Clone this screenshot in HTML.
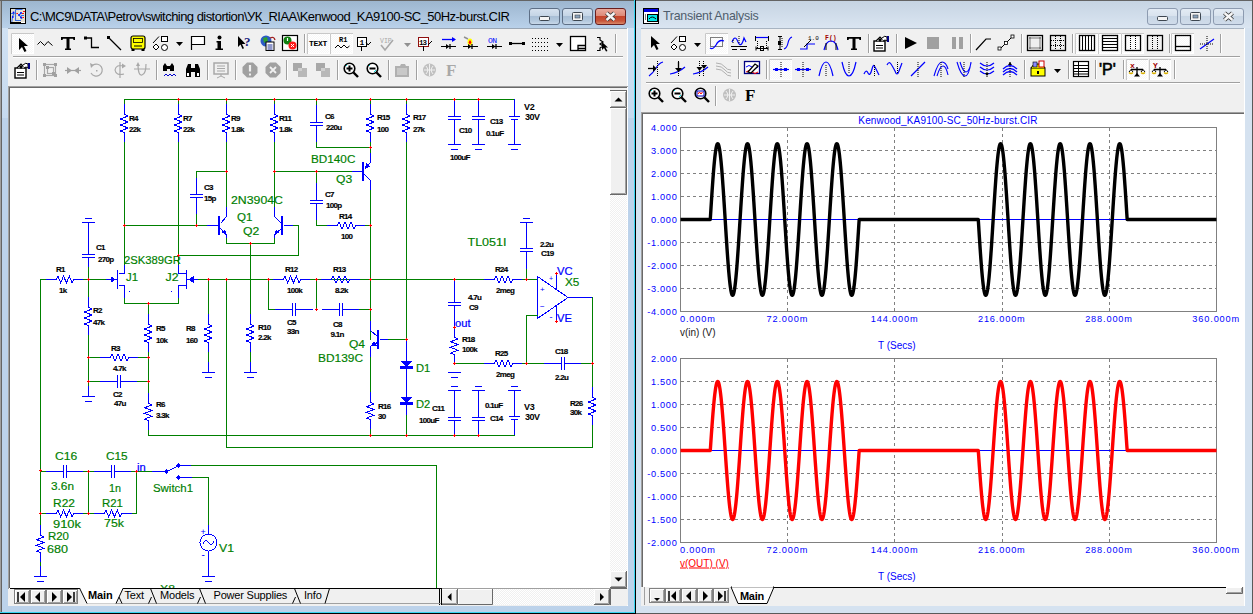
<!DOCTYPE html><html><head><meta charset="utf-8"><style>html,body{margin:0;padding:0;width:1253px;height:614px;overflow:hidden;background:#fff;font-family:'Liberation Sans', sans-serif}*{box-sizing:content-box}</style></head><body>
<div style="position:absolute;left:0;top:0;width:1253px;height:614px;overflow:hidden">
<div style="position:absolute;left:0px;top:0;width:636px;height:614px;overflow:hidden"><div style="position:absolute;left:0;top:0;width:636px;height:614px;background:#bcd2ea"></div><div style="position:absolute;left:0;top:0;width:1px;height:614px;background:#a0a0a0"></div><div style="position:absolute;left:1px;top:0;width:1px;height:614px;background:#646464"></div><div style="position:absolute;left:0;top:0;width:636px;height:1px;background:#646464"></div><div style="position:absolute;left:634px;top:0;width:1px;height:614px;background:#38d4f0"></div><div style="position:absolute;left:635px;top:0;width:1px;height:614px;background:#000"></div><div style="position:absolute;left:0;top:612px;width:635px;height:1px;background:#38d4f0"></div><div style="position:absolute;left:0;top:613px;width:636px;height:1px;background:#000"></div><div style="position:absolute;left:2px;top:1px;width:632px;height:27px;background:linear-gradient(#9db6cf,#b9d1ea)"></div><div style="position:absolute;left:30px;top:9px;font:13px 'Liberation Sans', sans-serif;color:#000;white-space:nowrap;letter-spacing:-0.54px">C:\MC9\DATA\Petrov\switching distortion\УК_RIAA\Kenwood_KA9100-SC_50Hz-burst.CIR</div></div>
<div style="position:absolute;left:529px;top:8px;width:29px;height:15px;border:1px solid #5e6f86;border-radius:3px;background:linear-gradient(#d6e2ef 0%,#c5d5e6 45%,#a9bfd6 50%,#b4c9de 80%,#c8d8e9 100%)"></div><svg style="position:absolute;left:529px;top:8px" width="31" height="17"><rect x="10.5" y="8.5" width="10" height="4" rx="1" fill="#f4f4f4" stroke="#3d4650"/></svg><div style="position:absolute;left:562px;top:8px;width:29px;height:15px;border:1px solid #5e6f86;border-radius:3px;background:linear-gradient(#d6e2ef 0%,#c5d5e6 45%,#a9bfd6 50%,#b4c9de 80%,#c8d8e9 100%)"></div><svg style="position:absolute;left:562px;top:8px" width="31" height="17"><rect x="10.5" y="4.5" width="10" height="8" rx="1" fill="#f4f4f4" stroke="#3d4650"/><rect x="13" y="7" width="5" height="3" fill="#8aa2bb" stroke="#3d4650" stroke-width=".6"/></svg><div style="position:absolute;left:595px;top:8px;width:29px;height:15px;border:1px solid #6a1f1f;border-radius:3px;background:linear-gradient(#e9a99c 0%,#dd8a78 45%,#c5442b 50%,#c8553a 80%,#d98a6a 100%)"></div><svg style="position:absolute;left:595px;top:8px" width="31" height="17"><path d="M11.5 5 L19.5 12 M19.5 5 L11.5 12" stroke="#3a3a3a" stroke-width="4.2"/><path d="M11.5 5 L19.5 12 M19.5 5 L11.5 12" stroke="#f6f6f6" stroke-width="2.4"/></svg>
<div style="position:absolute;left:2px;top:28px;width:6px;height:90px;background:linear-gradient(#d0e1f3,#c6daef)"></div><div style="position:absolute;left:628px;top:28px;width:6px;height:90px;background:linear-gradient(#d0e1f3,#c6daef)"></div>
<div style="position:absolute;left:8px;top:28px;width:620px;height:578px;background:#fff"></div><div style="position:absolute;left:8px;top:28px;width:619px;height:577px;background:#f0f0f0;border-top:1px solid #9aa6b4"></div>
<div style="position:absolute;left:636px;top:0;width:617px;height:614px;overflow:hidden"><div style="position:absolute;left:0;top:0;width:617px;height:614px;background:#d5e2f0"></div><div style="position:absolute;left:0;top:0;width:617px;height:1px;background:#646464"></div><div style="position:absolute;left:616px;top:0;width:1px;height:614px;background:#5a5a5a"></div><div style="position:absolute;left:0;top:613px;width:617px;height:1px;background:#5a5a5a"></div><div style="position:absolute;left:0px;top:1px;width:616px;height:27px;background:linear-gradient(#c6d4e3,#dae5f1)"></div><div style="position:absolute;left:27px;top:9px;font:12.4px 'Liberation Sans', sans-serif;color:#4f5d6d;white-space:nowrap;letter-spacing:-0.26px">Transient Analysis</div></div>
<div style="position:absolute;left:1147px;top:8px;width:29px;height:15px;border:1px solid #8d9bb0;border-radius:3px;background:linear-gradient(#e3ebf4 0%,#d9e3ee 45%,#c8d6e5 50%,#d0dcea 100%)"></div><svg style="position:absolute;left:1147px;top:8px" width="31" height="17"><rect x="10.5" y="8.5" width="10" height="4" rx="1" fill="#f4f4f4" stroke="#3d4650"/></svg><div style="position:absolute;left:1180px;top:8px;width:29px;height:15px;border:1px solid #8d9bb0;border-radius:3px;background:linear-gradient(#e3ebf4 0%,#d9e3ee 45%,#c8d6e5 50%,#d0dcea 100%)"></div><svg style="position:absolute;left:1180px;top:8px" width="31" height="17"><rect x="10.5" y="4.5" width="10" height="8" rx="1" fill="#f4f4f4" stroke="#3d4650"/><rect x="13" y="7" width="5" height="3" fill="#8aa2bb" stroke="#3d4650" stroke-width=".6"/></svg><div style="position:absolute;left:1213px;top:8px;width:29px;height:15px;border:1px solid #8d9bb0;border-radius:3px;background:linear-gradient(#e3ebf4 0%,#d9e3ee 45%,#c8d6e5 50%,#d0dcea 100%)"></div><svg style="position:absolute;left:1213px;top:8px" width="31" height="17"><path d="M11.5 5 L19.5 12 M19.5 5 L11.5 12" stroke="#3a3a3a" stroke-width="4.2"/><path d="M11.5 5 L19.5 12 M19.5 5 L11.5 12" stroke="#f6f6f6" stroke-width="2.4"/></svg>
<div style="position:absolute;left:641px;top:28px;width:604px;height:578px;background:#fff"></div><div style="position:absolute;left:641px;top:28px;width:603px;height:577px;background:#f0f0f0;border-top:1px solid #a8b4c2"></div>
<div style="position:absolute;left:8px;top:86px;width:619px;height:502px;background:#fff;border-left:1px solid #a0a0a0;border-top:1px solid #a0a0a0"></div>
<div style="position:absolute;left:9px;top:87px;width:602px;height:501px;border-left:1px solid #696969;border-top:1px solid #696969;box-sizing:border-box"></div>
<svg style="position:absolute;left:0;top:0" width="636" height="588" viewBox="0 0 636 588"><defs><clipPath id="cc"><rect x="10" y="88" width="600" height="500"/></clipPath></defs><g clip-path="url(#cc)" font-family="Liberation Sans, sans-serif" shape-rendering="crispEdges"><rect x="124" y="99" width="391" height="1" fill="#008000"/><rect x="124" y="99" width="1" height="6" fill="#008000"/><rect x="124" y="104" width="1" height="11" fill="#0000ff"/><rect x="124" y="132" width="1" height="11" fill="#0000ff"/><path d="M124.5 114.5 L128.0 116.0 L120.5 119.0 L128.0 122.0 L120.5 125.0 L128.0 128.0 L120.5 131.0 L124.5 132.5" stroke="#0000ff" fill="none" stroke-width="1"/><rect x="178" y="99" width="1" height="6" fill="#008000"/><rect x="178" y="104" width="1" height="11" fill="#0000ff"/><rect x="178" y="132" width="1" height="11" fill="#0000ff"/><path d="M178.5 114.5 L182.0 116.0 L174.5 119.0 L182.0 122.0 L174.5 125.0 L182.0 128.0 L174.5 131.0 L178.5 132.5" stroke="#0000ff" fill="none" stroke-width="1"/><rect x="226" y="99" width="1" height="6" fill="#008000"/><rect x="226" y="104" width="1" height="11" fill="#0000ff"/><rect x="226" y="132" width="1" height="11" fill="#0000ff"/><path d="M226.5 114.5 L230.0 116.0 L222.5 119.0 L230.0 122.0 L222.5 125.0 L230.0 128.0 L222.5 131.0 L226.5 132.5" stroke="#0000ff" fill="none" stroke-width="1"/><rect x="274" y="99" width="1" height="6" fill="#008000"/><rect x="274" y="104" width="1" height="11" fill="#0000ff"/><rect x="274" y="132" width="1" height="11" fill="#0000ff"/><path d="M274.5 114.5 L278.0 116.0 L270.5 119.0 L278.0 122.0 L270.5 125.0 L278.0 128.0 L270.5 131.0 L274.5 132.5" stroke="#0000ff" fill="none" stroke-width="1"/><rect x="370" y="99" width="1" height="6" fill="#008000"/><rect x="370" y="104" width="1" height="11" fill="#0000ff"/><rect x="370" y="132" width="1" height="11" fill="#0000ff"/><path d="M370.5 114.5 L374.0 116.0 L366.5 119.0 L374.0 122.0 L366.5 125.0 L374.0 128.0 L366.5 131.0 L370.5 132.5" stroke="#0000ff" fill="none" stroke-width="1"/><rect x="406" y="99" width="1" height="6" fill="#008000"/><rect x="406" y="104" width="1" height="11" fill="#0000ff"/><rect x="406" y="132" width="1" height="11" fill="#0000ff"/><path d="M406.5 114.5 L410.0 116.0 L402.5 119.0 L410.0 122.0 L402.5 125.0 L410.0 128.0 L402.5 131.0 L406.5 132.5" stroke="#0000ff" fill="none" stroke-width="1"/><text x="129" y="121" fill="#000" font-size="8" letter-spacing="-0.7" font-weight="bold" stroke="#000" stroke-width="0.15">R4</text><text x="129" y="132" fill="#000" font-size="8" letter-spacing="-0.7" font-weight="bold" stroke="#000" stroke-width="0.15">22k</text><text x="183" y="121" fill="#000" font-size="8" letter-spacing="-0.7" font-weight="bold" stroke="#000" stroke-width="0.15">R7</text><text x="183" y="132" fill="#000" font-size="8" letter-spacing="-0.7" font-weight="bold" stroke="#000" stroke-width="0.15">22k</text><text x="231" y="121" fill="#000" font-size="8" letter-spacing="-0.7" font-weight="bold" stroke="#000" stroke-width="0.15">R9</text><text x="231" y="132" fill="#000" font-size="8" letter-spacing="-0.7" font-weight="bold" stroke="#000" stroke-width="0.15">1.8k</text><text x="279" y="121" fill="#000" font-size="8" letter-spacing="-0.7" font-weight="bold" stroke="#000" stroke-width="0.15">R11</text><text x="279" y="132" fill="#000" font-size="8" letter-spacing="-0.7" font-weight="bold" stroke="#000" stroke-width="0.15">1.8k</text><text x="377" y="120" fill="#000" font-size="8" letter-spacing="-0.7" font-weight="bold" stroke="#000" stroke-width="0.15">R15</text><text x="377" y="131.5" fill="#000" font-size="8" letter-spacing="-0.7" font-weight="bold" stroke="#000" stroke-width="0.15">100</text><text x="413" y="120" fill="#000" font-size="8" letter-spacing="-0.7" font-weight="bold" stroke="#000" stroke-width="0.15">R17</text><text x="413" y="131.5" fill="#000" font-size="8" letter-spacing="-0.7" font-weight="bold" stroke="#000" stroke-width="0.15">27k</text><rect x="316" y="99" width="1" height="7" fill="#008000"/><rect x="316" y="105" width="1" height="18" fill="#0000ff"/><rect x="316" y="125" width="1" height="18" fill="#0000ff"/><rect x="310" y="122" width="13" height="1" fill="#0000ff"/><rect x="310" y="125" width="13" height="1" fill="#0000ff"/><rect x="316" y="142" width="1" height="6" fill="#008000"/><rect x="316" y="147" width="55" height="1" fill="#008000"/><text x="325" y="119" fill="#000" font-size="8" letter-spacing="-0.7" font-weight="bold" stroke="#000" stroke-width="0.15">C6</text><text x="326" y="130" fill="#000" font-size="8" letter-spacing="-0.7" font-weight="bold" stroke="#000" stroke-width="0.15">220u</text><rect x="370" y="142" width="1" height="6" fill="#008000"/><rect x="454" y="100" width="1" height="5" fill="#0000ff"/><rect x="454" y="104" width="1" height="13" fill="#0000ff"/><rect x="454" y="119" width="1" height="13" fill="#0000ff"/><rect x="448" y="116" width="13" height="1" fill="#0000ff"/><rect x="448" y="119" width="13" height="1" fill="#0000ff"/><rect x="454" y="131" width="1" height="4" fill="#0000ff"/><rect x="454" y="134" width="1" height="11" fill="#0000ff"/><rect x="448" y="144" width="13" height="1" fill="#0000ff"/><rect x="451" y="149" width="7" height="1" fill="#0000ff"/><rect x="478" y="100" width="1" height="5" fill="#0000ff"/><rect x="478" y="104" width="1" height="13" fill="#0000ff"/><rect x="478" y="119" width="1" height="13" fill="#0000ff"/><rect x="472" y="116" width="13" height="1" fill="#0000ff"/><rect x="472" y="119" width="13" height="1" fill="#0000ff"/><rect x="478" y="131" width="1" height="4" fill="#0000ff"/><rect x="478" y="134" width="1" height="11" fill="#0000ff"/><rect x="472" y="144" width="13" height="1" fill="#0000ff"/><rect x="475" y="149" width="7" height="1" fill="#0000ff"/><rect x="514" y="99" width="1" height="18" fill="#0000ff"/><rect x="509" y="116" width="11" height="1" fill="#0000ff"/><rect x="511" y="119" width="7" height="1" fill="#0000ff"/><rect x="514" y="119" width="1" height="26" fill="#0000ff"/><rect x="514" y="144" width="1" height="1" fill="#0000ff"/><rect x="508" y="144" width="13" height="1" fill="#0000ff"/><rect x="511" y="149" width="7" height="1" fill="#0000ff"/><text x="459" y="133" fill="#000" font-size="8" letter-spacing="-0.7" font-weight="bold" stroke="#000" stroke-width="0.15">C10</text><text x="450" y="160" fill="#000" font-size="8" letter-spacing="-0.7" font-weight="bold" stroke="#000" stroke-width="0.15">100uF</text><text x="490" y="124" fill="#000" font-size="8" letter-spacing="-0.7" font-weight="bold" stroke="#000" stroke-width="0.15">C13</text><text x="486" y="136" fill="#000" font-size="8" letter-spacing="-0.7" font-weight="bold" stroke="#000" stroke-width="0.15">0.1uF</text><text x="524" y="110" fill="#000" font-size="9" letter-spacing="-0.2" font-weight="bold">V2</text><text x="525" y="120" fill="#000" font-size="9" letter-spacing="-0.5" font-weight="bold">30V</text><rect x="226" y="142" width="1" height="65" fill="#008000"/><rect x="274" y="142" width="1" height="65" fill="#008000"/><rect x="196" y="171" width="31" height="1" fill="#008000"/><rect x="274" y="171" width="43" height="1" fill="#008000"/><rect x="196" y="177" width="1" height="18" fill="#0000ff"/><rect x="196" y="197" width="1" height="18" fill="#0000ff"/><rect x="190" y="194" width="13" height="1" fill="#0000ff"/><rect x="190" y="197" width="13" height="1" fill="#0000ff"/><rect x="196" y="171" width="1" height="7" fill="#008000"/><rect x="196" y="214" width="1" height="12" fill="#008000"/><text x="204" y="190" fill="#000" font-size="8" letter-spacing="-0.7" font-weight="bold" stroke="#000" stroke-width="0.15">C3</text><text x="204" y="201" fill="#000" font-size="8" letter-spacing="-0.7" font-weight="bold" stroke="#000" stroke-width="0.15">15p</text><rect x="124" y="142" width="1" height="123" fill="#008000"/><rect x="178" y="142" width="1" height="123" fill="#008000"/><rect x="124" y="225" width="84" height="1" fill="#008000"/><rect x="207" y="225" width="13" height="1" fill="#0000ff"/><rect x="218" y="216" width="2" height="19" fill="#0000ff"/><path d="M226.5 206.5 L226.5 216.5 L220.5 223.5" stroke="#0000ff" stroke-width="1" fill="none"/><path d="M220.5 228.5 L226.5 234.5 L226.5 237.5" stroke="#0000ff" stroke-width="1" fill="none"/><path d="M227 236 L221.5 232 L225 229.5 Z" fill="#0000ff"/><path d="M226.5 237.5 L226.5 243.5 L274.5 243.5 L274.5 237.5" stroke="#008000" stroke-width="1" fill="none"/><rect x="281" y="216" width="2" height="19" fill="#0000ff"/><path d="M274.5 206.5 L274.5 216.5 L281.5 223.5" stroke="#0000ff" stroke-width="1" fill="none"/><path d="M281.5 228.5 L274.5 234.5 L274.5 237.5" stroke="#0000ff" stroke-width="1" fill="none"/><path d="M274 236 L279.5 232 L276 229.5 Z" fill="#0000ff"/><rect x="284" y="225" width="9" height="1" fill="#0000ff"/><path d="M292.5 225.5 L298.5 225.5 L298.5 255.5 L178.5 255.5" stroke="#008000" stroke-width="1" fill="none"/><text x="231" y="204" fill="#008000" stroke="#008000" stroke-width="0.15" font-size="10" textLength="52" lengthAdjust="spacingAndGlyphs">2N3904C</text><text x="237" y="221" fill="#008000" stroke="#008000" stroke-width="0.15" font-size="10" textLength="15.4" lengthAdjust="spacingAndGlyphs">Q1</text><text x="243" y="235" fill="#008000" stroke="#008000" stroke-width="0.15" font-size="10" textLength="16.3" lengthAdjust="spacingAndGlyphs">Q2</text><rect x="362" y="162" width="2" height="19" fill="#0000ff"/><rect x="316" y="171" width="37" height="1" fill="#008000"/><rect x="352" y="171" width="11" height="1" fill="#0000ff"/><path d="M370.5 147.5 L370.5 152.5" stroke="#008000" stroke-width="1" fill="none"/><path d="M370.5 152.5 L370.5 162.5 L364.5 168.5" stroke="#0000ff" stroke-width="1" fill="none"/><path d="M364.5 169 L366.5 163 L370 166.5 Z" fill="#0000ff"/><path d="M364.5 174.5 L370.5 180.5 L370.5 190.5" stroke="#0000ff" stroke-width="1" fill="none"/><rect x="370" y="190" width="1" height="150" fill="#008000"/><text x="311" y="163" fill="#008000" stroke="#008000" stroke-width="0.15" font-size="10" textLength="44.4" lengthAdjust="spacingAndGlyphs">BD140C</text><text x="336" y="183" fill="#008000" stroke="#008000" stroke-width="0.15" font-size="10" textLength="16.2" lengthAdjust="spacingAndGlyphs">Q3</text><rect x="316" y="171" width="1" height="12" fill="#008000"/><rect x="316" y="183" width="1" height="18" fill="#0000ff"/><rect x="316" y="203" width="1" height="18" fill="#0000ff"/><rect x="310" y="200" width="13" height="1" fill="#0000ff"/><rect x="310" y="203" width="13" height="1" fill="#0000ff"/><rect x="316" y="220" width="1" height="6" fill="#008000"/><path d="M316.5 225.5 L327.5 225.5" stroke="#008000" stroke-width="1" fill="none"/><rect x="327" y="225" width="11" height="1" fill="#0000ff"/><rect x="355" y="225" width="11" height="1" fill="#0000ff"/><path d="M337.5 225.5 L339.0 222.0 L342.0 229.0 L345.0 222.0 L348.0 229.0 L351.0 222.0 L354.0 229.0 L355.5 225.5" stroke="#0000ff" fill="none" stroke-width="1"/><rect x="365" y="225" width="6" height="1" fill="#008000"/><text x="325" y="197" fill="#000" font-size="8" letter-spacing="-0.7" font-weight="bold" stroke="#000" stroke-width="0.15">C7</text><text x="326" y="208" fill="#000" font-size="8" letter-spacing="-0.7" font-weight="bold" stroke="#000" stroke-width="0.15">100p</text><text x="339" y="219" fill="#000" font-size="8" letter-spacing="-0.7" font-weight="bold" stroke="#000" stroke-width="0.15">R14</text><text x="341" y="239" fill="#000" font-size="8" letter-spacing="-0.7" font-weight="bold" stroke="#000" stroke-width="0.15">100</text><rect x="85" y="218" width="7" height="1" fill="#0000ff"/><rect x="82" y="222" width="13" height="1" fill="#0000ff"/><rect x="88" y="222" width="1" height="1" fill="#0000ff"/><rect x="88" y="222" width="1" height="23" fill="#0000ff"/><rect x="88" y="244" width="1" height="11" fill="#0000ff"/><rect x="88" y="257" width="1" height="11" fill="#0000ff"/><rect x="82" y="254" width="13" height="1" fill="#0000ff"/><rect x="82" y="257" width="13" height="1" fill="#0000ff"/><rect x="88" y="267" width="1" height="13" fill="#008000"/><text x="96" y="250" fill="#000" font-size="8" letter-spacing="-0.7" font-weight="bold" stroke="#000" stroke-width="0.15">C1</text><text x="98" y="262" fill="#000" font-size="8" letter-spacing="-0.7" font-weight="bold" stroke="#000" stroke-width="0.15">270p</text><path d="M40.5 470.5 L40.5 279.5 L46.5 279.5" stroke="#008000" stroke-width="1" fill="none"/><rect x="46" y="279" width="11" height="1" fill="#0000ff"/><rect x="73" y="279" width="11" height="1" fill="#0000ff"/><path d="M56.5 279.5 L57.916666666666664 276.0 L60.75 283.0 L63.583333333333336 276.0 L66.41666666666667 283.0 L69.25 276.0 L72.08333333333333 283.0 L73.5 279.5" stroke="#0000ff" fill="none" stroke-width="1"/><rect x="83" y="279" width="6" height="1" fill="#008000"/><text x="56" y="272" fill="#000" font-size="8" letter-spacing="-0.7" font-weight="bold" stroke="#000" stroke-width="0.15">R1</text><text x="59" y="293" fill="#000" font-size="8" letter-spacing="-0.7" font-weight="bold" stroke="#000" stroke-width="0.15">1k</text><rect x="88" y="279" width="19" height="1" fill="#008000"/><rect x="106" y="279" width="12" height="1" fill="#0000ff"/><path d="M116 279.5 L110.5 276 L110.5 283 Z" fill="#0000ff"/><rect x="117" y="270" width="1.4" height="19" fill="#0000ff"/><path d="M124.5 264.5 L124.5 273.5 L118.5 273.5" stroke="#0000ff" stroke-width="1" fill="none"/><path d="M118.5 285.5 L124.5 285.5 L124.5 297.5" stroke="#0000ff" stroke-width="1" fill="none"/><rect x="124" y="298" width="1" height="6" fill="#008000"/><path d="M124.5 303.5 L178.5 303.5" stroke="#008000" stroke-width="1" fill="none"/><rect x="129" y="291" width="1" height="1" fill="#0000ff"/><text x="124" y="264" fill="#008000" stroke="#008000" stroke-width="0.15" font-size="10" textLength="57" lengthAdjust="spacingAndGlyphs">2SK389GR</text><text x="126" y="280.7" fill="#008000" stroke="#008000" stroke-width="0.15" font-size="10" textLength="12" lengthAdjust="spacingAndGlyphs">J1</text><text x="165.5" y="280.7" fill="#008000" stroke="#008000" stroke-width="0.15" font-size="10" textLength="13" lengthAdjust="spacingAndGlyphs">J2</text><rect x="186" y="270" width="1.4" height="19" fill="#0000ff"/><path d="M178.5 264.5 L178.5 273.5 L186.5 273.5" stroke="#0000ff" stroke-width="1" fill="none"/><path d="M186.5 285.5 L178.5 285.5 L178.5 297.5" stroke="#0000ff" stroke-width="1" fill="none"/><rect x="178" y="298" width="1" height="6" fill="#008000"/><path d="M188.5 279.5 L193.5 276 L193.5 283 Z" fill="#0000ff"/><rect x="171" y="291" width="1" height="1" fill="#0000ff"/><rect x="187" y="279" width="12" height="1" fill="#0000ff"/><rect x="198" y="279" width="76" height="1" fill="#008000"/><rect x="273" y="279" width="11" height="1" fill="#0000ff"/><rect x="300" y="279" width="11" height="1" fill="#0000ff"/><path d="M283.5 279.5 L284.9166666666667 276.0 L287.75 283.0 L290.5833333333333 276.0 L293.4166666666667 283.0 L296.25 276.0 L299.0833333333333 283.0 L300.5 279.5" stroke="#0000ff" fill="none" stroke-width="1"/><rect x="310" y="279" width="175" height="1" fill="#008000"/><text x="285" y="272" fill="#000" font-size="8" letter-spacing="-0.7" font-weight="bold" stroke="#000" stroke-width="0.15">R12</text><text x="287" y="293" fill="#000" font-size="8" letter-spacing="-0.7" font-weight="bold" stroke="#000" stroke-width="0.15">100k</text><text x="333" y="272" fill="#000" font-size="8" letter-spacing="-0.7" font-weight="bold" stroke="#000" stroke-width="0.15">R13</text><text x="335" y="293" fill="#000" font-size="8" letter-spacing="-0.7" font-weight="bold" stroke="#000" stroke-width="0.15">8.2k</text><rect x="88" y="279" width="1" height="19" fill="#008000"/><rect x="88" y="297" width="1" height="11" fill="#0000ff"/><rect x="88" y="325" width="1" height="11" fill="#0000ff"/><path d="M88.5 307.5 L92.0 309.0 L84.5 312.0 L92.0 315.0 L84.5 318.0 L92.0 321.0 L84.5 324.0 L88.5 325.5" stroke="#0000ff" fill="none" stroke-width="1"/><rect x="88" y="335" width="1" height="52" fill="#008000"/><rect x="88" y="386" width="1" height="11" fill="#0000ff"/><rect x="82" y="396" width="13" height="1" fill="#0000ff"/><rect x="85" y="401" width="7" height="1" fill="#0000ff"/><text x="93" y="313" fill="#000" font-size="8" letter-spacing="-0.7" font-weight="bold" stroke="#000" stroke-width="0.15">R2</text><text x="93" y="325" fill="#000" font-size="8" letter-spacing="-0.7" font-weight="bold" stroke="#000" stroke-width="0.15">47k</text><rect x="148" y="303" width="1" height="13" fill="#008000"/><rect x="148" y="314" width="1" height="11" fill="#0000ff"/><rect x="148" y="342" width="1" height="11" fill="#0000ff"/><path d="M148.5 324.5 L152.0 326.0 L144.5 329.0 L152.0 332.0 L144.5 335.0 L152.0 338.0 L144.5 341.0 L148.5 342.5" stroke="#0000ff" fill="none" stroke-width="1"/><rect x="148" y="352" width="1" height="42" fill="#008000"/><rect x="148" y="393" width="1" height="11" fill="#0000ff"/><rect x="148" y="420" width="1" height="11" fill="#0000ff"/><path d="M148.5 403.5 L152.0 404.9166666666667 L144.5 407.75 L152.0 410.5833333333333 L144.5 413.4166666666667 L152.0 416.25 L144.5 419.0833333333333 L148.5 420.5" stroke="#0000ff" fill="none" stroke-width="1"/><rect x="148" y="430" width="1" height="6" fill="#008000"/><text x="156" y="331" fill="#000" font-size="8" letter-spacing="-0.7" font-weight="bold" stroke="#000" stroke-width="0.15">R5</text><text x="156" y="343" fill="#000" font-size="8" letter-spacing="-0.7" font-weight="bold" stroke="#000" stroke-width="0.15">10k</text><text x="156" y="407" fill="#000" font-size="8" letter-spacing="-0.7" font-weight="bold" stroke="#000" stroke-width="0.15">R6</text><text x="156" y="418" fill="#000" font-size="8" letter-spacing="-0.7" font-weight="bold" stroke="#000" stroke-width="0.15">3.3k</text><rect x="88" y="357" width="13" height="1" fill="#008000"/><rect x="100" y="357" width="11" height="1" fill="#0000ff"/><rect x="128" y="357" width="11" height="1" fill="#0000ff"/><path d="M110.5 357.5 L112.0 354.0 L115.0 361.0 L118.0 354.0 L121.0 361.0 L124.0 354.0 L127.0 361.0 L128.5 357.5" stroke="#0000ff" fill="none" stroke-width="1"/><rect x="138" y="357" width="11" height="1" fill="#008000"/><text x="111" y="351" fill="#000" font-size="8" letter-spacing="-0.7" font-weight="bold" stroke="#000" stroke-width="0.15">R3</text><text x="113" y="371" fill="#000" font-size="8" letter-spacing="-0.7" font-weight="bold" stroke="#000" stroke-width="0.15">4.7k</text><rect x="88" y="381" width="13" height="1" fill="#008000"/><rect x="100" y="381" width="18" height="1" fill="#0000ff"/><rect x="120" y="381" width="18" height="1" fill="#0000ff"/><rect x="117" y="375" width="1" height="13" fill="#0000ff"/><rect x="120" y="375" width="1" height="13" fill="#0000ff"/><rect x="137" y="381" width="12" height="1" fill="#008000"/><text x="113" y="397" fill="#000" font-size="8" letter-spacing="-0.7" font-weight="bold" stroke="#000" stroke-width="0.15">C2</text><text x="114" y="406" fill="#000" font-size="8" letter-spacing="-0.7" font-weight="bold" stroke="#000" stroke-width="0.15">47u</text><rect x="208" y="279" width="1" height="36" fill="#008000"/><rect x="208" y="314" width="1" height="11" fill="#0000ff"/><rect x="208" y="342" width="1" height="11" fill="#0000ff"/><path d="M208.5 324.5 L212.0 326.0 L204.5 329.0 L212.0 332.0 L204.5 335.0 L212.0 338.0 L204.5 341.0 L208.5 342.5" stroke="#0000ff" fill="none" stroke-width="1"/><rect x="208" y="352" width="1" height="11" fill="#008000"/><rect x="208" y="362" width="1" height="11" fill="#0000ff"/><rect x="202" y="372" width="13" height="1" fill="#0000ff"/><rect x="205" y="377" width="7" height="1" fill="#0000ff"/><text x="186" y="331" fill="#000" font-size="8" letter-spacing="-0.7" font-weight="bold" stroke="#000" stroke-width="0.15">R8</text><text x="186" y="343" fill="#000" font-size="8" letter-spacing="-0.7" font-weight="bold" stroke="#000" stroke-width="0.15">160</text><rect x="250" y="243" width="1" height="72" fill="#008000"/><rect x="250" y="314" width="1" height="11" fill="#0000ff"/><rect x="250" y="342" width="1" height="11" fill="#0000ff"/><path d="M250.5 324.5 L254.0 326.0 L246.5 329.0 L254.0 332.0 L246.5 335.0 L254.0 338.0 L246.5 341.0 L250.5 342.5" stroke="#0000ff" fill="none" stroke-width="1"/><rect x="250" y="352" width="1" height="11" fill="#008000"/><rect x="250" y="362" width="1" height="11" fill="#0000ff"/><rect x="244" y="372" width="13" height="1" fill="#0000ff"/><rect x="247" y="377" width="7" height="1" fill="#0000ff"/><text x="258" y="330" fill="#000" font-size="8" letter-spacing="-0.7" font-weight="bold" stroke="#000" stroke-width="0.15">R10</text><text x="258" y="340" fill="#000" font-size="8" letter-spacing="-0.7" font-weight="bold" stroke="#000" stroke-width="0.15">2.2k</text><rect x="226" y="279" width="1" height="169" fill="#008000"/><rect x="226" y="447" width="367" height="1" fill="#008000"/><path d="M268.5 279.5 L268.5 309.5 L275.5 309.5" stroke="#008000" stroke-width="1" fill="none"/><rect x="275" y="309" width="18" height="1" fill="#0000ff"/><rect x="295" y="309" width="18" height="1" fill="#0000ff"/><rect x="292" y="303" width="1" height="13" fill="#0000ff"/><rect x="295" y="303" width="1" height="13" fill="#0000ff"/><text x="287" y="325" fill="#000" font-size="8" letter-spacing="-0.7" font-weight="bold" stroke="#000" stroke-width="0.15">C5</text><text x="287" y="334" fill="#000" font-size="8" letter-spacing="-0.7" font-weight="bold" stroke="#000" stroke-width="0.15">33n</text><rect x="316" y="279" width="1" height="31" fill="#008000"/><rect x="321" y="279" width="11" height="1" fill="#0000ff"/><rect x="349" y="279" width="11" height="1" fill="#0000ff"/><path d="M331.5 279.5 L333.0 276.0 L336.0 283.0 L339.0 276.0 L342.0 283.0 L345.0 276.0 L348.0 283.0 L349.5 279.5" stroke="#0000ff" fill="none" stroke-width="1"/><rect x="322" y="309" width="18" height="1" fill="#0000ff"/><rect x="342" y="309" width="18" height="1" fill="#0000ff"/><rect x="339" y="303" width="1" height="13" fill="#0000ff"/><rect x="342" y="303" width="1" height="13" fill="#0000ff"/><rect x="359" y="309" width="12" height="1" fill="#008000"/><text x="333" y="327" fill="#000" font-size="8" letter-spacing="-0.7" font-weight="bold" stroke="#000" stroke-width="0.15">C8</text><text x="330.5" y="337" fill="#000" font-size="8" letter-spacing="-0.7" font-weight="bold" stroke="#000" stroke-width="0.15">9.1n</text><rect x="406" y="142" width="1" height="198" fill="#008000"/><rect x="377" y="330" width="2" height="19" fill="#0000ff"/><rect x="370" y="320" width="1" height="20" fill="#008000"/><path d="M370.5 320.5 L370.5 330.5 L377.5 336.5" stroke="#0000ff" stroke-width="1" fill="none"/><path d="M377.5 342.5 L370.5 346.5 L370.5 357.5" stroke="#0000ff" stroke-width="1" fill="none"/><path d="M370 346.5 L376.5 345.5 L374 341.5 Z" fill="#0000ff"/><rect x="380" y="339" width="9" height="1" fill="#0000ff"/><rect x="388" y="339" width="19" height="1" fill="#008000"/><rect x="370" y="357" width="1" height="36" fill="#008000"/><rect x="370" y="392" width="1" height="11" fill="#0000ff"/><rect x="370" y="419" width="1" height="11" fill="#0000ff"/><path d="M370.5 402.5 L374.0 403.9166666666667 L366.5 406.75 L374.0 409.5833333333333 L366.5 412.4166666666667 L374.0 415.25 L366.5 418.0833333333333 L370.5 419.5" stroke="#0000ff" fill="none" stroke-width="1"/><rect x="370" y="429" width="1" height="7" fill="#008000"/><text x="349" y="348" fill="#008000" stroke="#008000" stroke-width="0.15" font-size="10" textLength="16" lengthAdjust="spacingAndGlyphs">Q4</text><text x="318" y="362" fill="#008000" stroke="#008000" stroke-width="0.15" font-size="10" textLength="45" lengthAdjust="spacingAndGlyphs">BD139C</text><rect x="406" y="339" width="1" height="97" fill="#0000ff"/><path d="M400 360.5 L413 360.5 L406.5 367 Z" fill="#0000ff"/><rect x="400" y="366" width="13" height="3" fill="#0000ff"/><path d="M400 396.5 L413 396.5 L406.5 403 Z" fill="#0000ff"/><rect x="400" y="402" width="13" height="3" fill="#0000ff"/><rect x="406" y="415" width="1" height="21" fill="#008000"/><text x="416" y="372" fill="#008000" stroke="#008000" stroke-width="0.15" font-size="10" textLength="14.3" lengthAdjust="spacingAndGlyphs">D1</text><text x="416" y="408" fill="#008000" stroke="#008000" stroke-width="0.15" font-size="10" textLength="14.3" lengthAdjust="spacingAndGlyphs">D2</text><text x="378" y="409" fill="#000" font-size="8" letter-spacing="-0.7" font-weight="bold" stroke="#000" stroke-width="0.15">R16</text><text x="378" y="419" fill="#000" font-size="8" letter-spacing="-0.7" font-weight="bold" stroke="#000" stroke-width="0.15">30</text><rect x="148" y="435" width="367" height="1" fill="#008000"/><rect x="454" y="279" width="1" height="14" fill="#0000ff"/><rect x="454" y="292" width="1" height="11" fill="#0000ff"/><rect x="454" y="305" width="1" height="11" fill="#0000ff"/><rect x="448" y="302" width="13" height="1" fill="#0000ff"/><rect x="448" y="305" width="13" height="1" fill="#0000ff"/><rect x="454" y="315" width="1" height="12" fill="#0000ff"/><rect x="454" y="327" width="1" height="11" fill="#0000ff"/><rect x="454" y="354" width="1" height="11" fill="#0000ff"/><path d="M454.5 337.5 L458.0 338.9166666666667 L450.5 341.75 L458.0 344.5833333333333 L450.5 347.4166666666667 L458.0 350.25 L450.5 353.0833333333333 L454.5 354.5" stroke="#0000ff" fill="none" stroke-width="1"/><rect x="454" y="372" width="1" height="1" fill="#0000ff"/><rect x="448" y="372" width="13" height="1" fill="#0000ff"/><rect x="451" y="377" width="7" height="1" fill="#0000ff"/><rect x="451" y="386" width="7" height="1" fill="#0000ff"/><rect x="448" y="390" width="13" height="1" fill="#0000ff"/><rect x="454" y="390" width="1" height="1" fill="#0000ff"/><rect x="454" y="390" width="1" height="28" fill="#0000ff"/><rect x="454" y="417" width="1" height="1" fill="#0000ff"/><rect x="454" y="420" width="1" height="1" fill="#0000ff"/><rect x="448" y="417" width="13" height="1" fill="#0000ff"/><rect x="448" y="420" width="13" height="1" fill="#0000ff"/><rect x="454" y="420" width="1" height="16" fill="#0000ff"/><text x="468" y="300" fill="#000" font-size="8" letter-spacing="-0.7" font-weight="bold" stroke="#000" stroke-width="0.15">4.7u</text><text x="469" y="310" fill="#000" font-size="8" letter-spacing="-0.7" font-weight="bold" stroke="#000" stroke-width="0.15">C9</text><text transform="translate(455,327) scale(1.12,1)" fill="#0000ff" stroke="#0000ff" stroke-width="0.2" font-size="10">out</text><text x="462" y="341.5" fill="#000" font-size="8" letter-spacing="-0.7" font-weight="bold" stroke="#000" stroke-width="0.15">R18</text><text x="462" y="352" fill="#000" font-size="8" letter-spacing="-0.7" font-weight="bold" stroke="#000" stroke-width="0.15">100k</text><text x="432" y="411" fill="#000" font-size="8" letter-spacing="-0.7" font-weight="bold" stroke="#000" stroke-width="0.15">C11</text><text x="419" y="423" fill="#000" font-size="8" letter-spacing="-0.7" font-weight="bold" stroke="#000" stroke-width="0.15">100uF</text><rect x="454" y="363" width="31" height="1" fill="#008000"/><rect x="484" y="363" width="11" height="1" fill="#0000ff"/><rect x="512" y="363" width="11" height="1" fill="#0000ff"/><path d="M494.5 363.5 L496.0 360.0 L499.0 367.0 L502.0 360.0 L505.0 367.0 L508.0 360.0 L511.0 367.0 L512.5 363.5" stroke="#0000ff" fill="none" stroke-width="1"/><rect x="522" y="363" width="5" height="1" fill="#008000"/><text x="495" y="355.5" fill="#000" font-size="8" letter-spacing="-0.7" font-weight="bold" stroke="#000" stroke-width="0.15">R25</text><text x="496" y="377" fill="#000" font-size="8" letter-spacing="-0.7" font-weight="bold" stroke="#000" stroke-width="0.15">2meg</text><rect x="526" y="363" width="19" height="1" fill="#008000"/><rect x="544" y="363" width="18" height="1" fill="#0000ff"/><rect x="564" y="363" width="18" height="1" fill="#0000ff"/><rect x="561" y="357" width="1" height="13" fill="#0000ff"/><rect x="564" y="357" width="1" height="13" fill="#0000ff"/><rect x="581" y="363" width="12" height="1" fill="#008000"/><text x="555" y="354" fill="#000" font-size="8" letter-spacing="-0.7" font-weight="bold" stroke="#000" stroke-width="0.15">C18</text><text x="555" y="380" fill="#000" font-size="8" letter-spacing="-0.7" font-weight="bold" stroke="#000" stroke-width="0.15">2.2u</text><rect x="475" y="386" width="7" height="1" fill="#0000ff"/><rect x="472" y="390" width="13" height="1" fill="#0000ff"/><rect x="478" y="390" width="1" height="1" fill="#0000ff"/><rect x="478" y="390" width="1" height="28" fill="#0000ff"/><rect x="478" y="417" width="1" height="1" fill="#0000ff"/><rect x="478" y="420" width="1" height="1" fill="#0000ff"/><rect x="472" y="417" width="13" height="1" fill="#0000ff"/><rect x="472" y="420" width="13" height="1" fill="#0000ff"/><rect x="478" y="420" width="1" height="16" fill="#0000ff"/><rect x="511" y="386" width="7" height="1" fill="#0000ff"/><rect x="508" y="390" width="13" height="1" fill="#0000ff"/><rect x="514" y="390" width="1" height="1" fill="#0000ff"/><rect x="514" y="390" width="1" height="27" fill="#0000ff"/><rect x="509" y="416" width="11" height="1" fill="#0000ff"/><rect x="511" y="419" width="7" height="1" fill="#0000ff"/><rect x="514" y="419" width="1" height="17" fill="#0000ff"/><rect x="478" y="435" width="37" height="1" fill="#008000"/><text x="485" y="408" fill="#000" font-size="8" letter-spacing="-0.7" font-weight="bold" stroke="#000" stroke-width="0.15">0.1uF</text><text x="490" y="421" fill="#000" font-size="8" letter-spacing="-0.7" font-weight="bold" stroke="#000" stroke-width="0.15">C14</text><text x="524" y="410" fill="#000" font-size="9" letter-spacing="-0.2" font-weight="bold">V3</text><text x="525" y="420" fill="#000" font-size="9" letter-spacing="-0.5" font-weight="bold">30V</text><rect x="484" y="279" width="11" height="1" fill="#0000ff"/><rect x="512" y="279" width="11" height="1" fill="#0000ff"/><path d="M494.5 279.5 L496.0 276.0 L499.0 283.0 L502.0 276.0 L505.0 283.0 L508.0 276.0 L511.0 283.0 L512.5 279.5" stroke="#0000ff" fill="none" stroke-width="1"/><rect x="522" y="279" width="16" height="1" fill="#008000"/><rect x="523" y="218" width="7" height="1" fill="#0000ff"/><rect x="520" y="222" width="13" height="1" fill="#0000ff"/><rect x="526" y="222" width="1" height="1" fill="#0000ff"/><rect x="526" y="222" width="1" height="17" fill="#0000ff"/><rect x="526" y="231" width="1" height="18" fill="#0000ff"/><rect x="526" y="251" width="1" height="18" fill="#0000ff"/><rect x="520" y="248" width="13" height="1" fill="#0000ff"/><rect x="520" y="251" width="13" height="1" fill="#0000ff"/><rect x="526" y="269" width="1" height="11" fill="#008000"/><text x="540" y="246.5" fill="#000" font-size="8" letter-spacing="-0.7" font-weight="bold" stroke="#000" stroke-width="0.15">2.2u</text><text x="541" y="256" fill="#000" font-size="8" letter-spacing="-0.7" font-weight="bold" stroke="#000" stroke-width="0.15">C19</text><text x="495" y="272" fill="#000" font-size="8" letter-spacing="-0.7" font-weight="bold" stroke="#000" stroke-width="0.15">R24</text><text x="496" y="293" fill="#000" font-size="8" letter-spacing="-0.7" font-weight="bold" stroke="#000" stroke-width="0.15">2meg</text><text x="467.5" y="246" fill="#008000" stroke="#008000" stroke-width="0.15" font-size="10" textLength="39" lengthAdjust="spacingAndGlyphs">TL051I</text><path d="M537.5 276.5 L537.5 318.5 L568 297.5 Z" stroke="#0000ff" fill="none"/><rect x="526" y="315" width="12" height="1" fill="#008000"/><rect x="526" y="315" width="1" height="49" fill="#008000"/><rect x="556" y="273" width="1" height="17" fill="#0000ff"/><rect x="556" y="306" width="1" height="16" fill="#0000ff"/><text x="540" y="292" fill="#0000ff" font-size="8" letter-spacing="0" font-weight="normal">+</text><text x="540" y="309" fill="#0000ff" font-size="8" letter-spacing="0" font-weight="normal">−</text><text x="549" y="281" fill="#0000ff" font-size="7" letter-spacing="0" font-weight="normal">+</text><text x="549.5" y="320" fill="#0000ff" font-size="9" letter-spacing="0" font-weight="normal">-</text><text transform="translate(557,275) scale(1.12,1)" fill="#0000ff" stroke="#0000ff" stroke-width="0.2" font-size="10">VC</text><text transform="translate(557,322) scale(1.12,1)" fill="#0000ff" stroke="#0000ff" stroke-width="0.2" font-size="10">VE</text><text x="565" y="286" fill="#008000" stroke="#008000" stroke-width="0.15" font-size="10" textLength="14.4" lengthAdjust="spacingAndGlyphs">X5</text><rect x="568" y="297" width="25" height="1" fill="#0000ff"/><rect x="592" y="297" width="1" height="91" fill="#008000"/><rect x="592" y="387" width="1" height="11" fill="#0000ff"/><rect x="592" y="415" width="1" height="11" fill="#0000ff"/><path d="M592.5 397.5 L596.0 399.0 L588.5 402.0 L596.0 405.0 L588.5 408.0 L596.0 411.0 L588.5 414.0 L592.5 415.5" stroke="#0000ff" fill="none" stroke-width="1"/><rect x="592" y="425" width="1" height="23" fill="#008000"/><text x="570" y="405.5" fill="#000" font-size="8" letter-spacing="-0.7" font-weight="bold" stroke="#000" stroke-width="0.15">R26</text><text x="570" y="415" fill="#000" font-size="8" letter-spacing="-0.7" font-weight="bold" stroke="#000" stroke-width="0.15">30k</text><rect x="40" y="470" width="1" height="44" fill="#008000"/><path d="M40.5 471.5 L46.5 471.5" stroke="#008000" stroke-width="1" fill="none"/><rect x="46" y="471" width="18" height="1" fill="#0000ff"/><rect x="66" y="471" width="18" height="1" fill="#0000ff"/><rect x="63" y="465" width="1" height="13" fill="#0000ff"/><rect x="66" y="465" width="1" height="13" fill="#0000ff"/><rect x="83" y="471" width="6" height="1" fill="#008000"/><rect x="88" y="471" width="7" height="1" fill="#008000"/><rect x="94" y="471" width="18" height="1" fill="#0000ff"/><rect x="114" y="471" width="18" height="1" fill="#0000ff"/><rect x="111" y="465" width="1" height="13" fill="#0000ff"/><rect x="114" y="465" width="1" height="13" fill="#0000ff"/><rect x="131" y="471" width="6" height="1" fill="#008000"/><rect x="88" y="471" width="1" height="43" fill="#008000"/><path d="M40.5 513.5 L46.5 513.5" stroke="#008000" stroke-width="1" fill="none"/><rect x="46" y="513" width="11" height="1" fill="#0000ff"/><rect x="73" y="513" width="11" height="1" fill="#0000ff"/><path d="M56.5 513.5 L57.916666666666664 510.0 L60.75 517.0 L63.583333333333336 510.0 L66.41666666666667 517.0 L69.25 510.0 L72.08333333333333 517.0 L73.5 513.5" stroke="#0000ff" fill="none" stroke-width="1"/><rect x="83" y="513" width="12" height="1" fill="#008000"/><rect x="93" y="513" width="2" height="1" fill="#008000"/><rect x="94" y="513" width="11" height="1" fill="#0000ff"/><rect x="121" y="513" width="11" height="1" fill="#0000ff"/><path d="M104.5 513.5 L105.91666666666667 510.0 L108.75 517.0 L111.58333333333333 510.0 L114.41666666666667 517.0 L117.25 510.0 L120.08333333333333 517.0 L121.5 513.5" stroke="#0000ff" fill="none" stroke-width="1"/><path d="M131.5 513.5 L136.5 513.5 L136.5 471.5" stroke="#008000" stroke-width="1" fill="none"/><rect x="40" y="513" width="1" height="13" fill="#008000"/><rect x="40" y="525" width="1" height="11" fill="#0000ff"/><rect x="40" y="552" width="1" height="11" fill="#0000ff"/><path d="M40.5 535.5 L44.0 536.9166666666666 L36.5 539.75 L44.0 542.5833333333334 L36.5 545.4166666666666 L44.0 548.25 L36.5 551.0833333333334 L40.5 552.5" stroke="#0000ff" fill="none" stroke-width="1"/><rect x="40" y="562" width="1" height="5" fill="#008000"/><rect x="40" y="566" width="1" height="11" fill="#0000ff"/><rect x="34" y="576" width="13" height="1" fill="#0000ff"/><rect x="37" y="581" width="7" height="1" fill="#0000ff"/><text x="55" y="460" fill="#008000" stroke="#008000" stroke-width="0.15" font-size="10" textLength="22.2" lengthAdjust="spacingAndGlyphs">C16</text><text x="106" y="460" fill="#008000" stroke="#008000" stroke-width="0.15" font-size="10" textLength="21.7" lengthAdjust="spacingAndGlyphs">C15</text><text x="51" y="490" fill="#008000" stroke="#008000" stroke-width="0.15" font-size="10" textLength="23" lengthAdjust="spacingAndGlyphs">3.6n</text><text x="109" y="492" fill="#008000" stroke="#008000" stroke-width="0.15" font-size="10" textLength="12" lengthAdjust="spacingAndGlyphs">1n</text><text x="53" y="507" fill="#008000" stroke="#008000" stroke-width="0.15" font-size="10" textLength="22" lengthAdjust="spacingAndGlyphs">R22</text><text x="102" y="507" fill="#008000" stroke="#008000" stroke-width="0.15" font-size="10" textLength="21" lengthAdjust="spacingAndGlyphs">R21</text><text x="53" y="528" fill="#008000" stroke="#008000" stroke-width="0.15" font-size="10" textLength="28" lengthAdjust="spacingAndGlyphs">910k</text><text x="104" y="527" fill="#008000" stroke="#008000" stroke-width="0.15" font-size="10" textLength="20" lengthAdjust="spacingAndGlyphs">75k</text><text x="48" y="540" fill="#008000" stroke="#008000" stroke-width="0.15" font-size="10" textLength="21" lengthAdjust="spacingAndGlyphs">R20</text><text x="47" y="553" fill="#008000" stroke="#008000" stroke-width="0.15" font-size="10" textLength="21" lengthAdjust="spacingAndGlyphs">680</text><text transform="translate(137,471) scale(1.12,1)" fill="#0000ff" stroke="#0000ff" stroke-width="0.2" font-size="10">in</text><rect x="136" y="471" width="17" height="1" fill="#008000"/><rect x="152" y="471" width="15" height="1" fill="#0000ff"/><path d="M166.5 471.5 L179.5 465.5" stroke="#0000ff" stroke-width="1" fill="none"/><rect x="179" y="465" width="13" height="1" fill="#0000ff"/><rect x="191" y="465" width="246" height="1" fill="#008000"/><rect x="436" y="465" width="1" height="124" fill="#008000"/><rect x="179" y="477" width="13" height="1" fill="#0000ff"/><path d="M191.5 477.5 L208.5 477.5 L208.5 525.5" stroke="#008000" stroke-width="1" fill="none"/><path d="M166.5 469 L168.5 471.5 L166.5 474 L164.5 471.5Z" fill="#0000ff"/><path d="M178.5 463 L180.5 465.5 L178.5 468 L176.5 465.5Z" fill="#0000ff"/><path d="M178.5 475 L180.5 477.5 L178.5 480 L176.5 477.5Z" fill="#0000ff"/><text x="153" y="492" fill="#008000" stroke="#008000" stroke-width="0.15" font-size="10" textLength="40" lengthAdjust="spacingAndGlyphs">Switch1</text><rect x="208" y="525" width="1" height="10" fill="#0000ff"/><circle cx="208.5" cy="542.5" r="8.5" stroke="#0000ff" fill="none"/><path d="M203 543.5 Q205.5 538 208.5 542.5 T214 541.5" stroke="#0000ff" fill="none"/><rect x="208" y="551" width="1" height="16" fill="#0000ff"/><rect x="208" y="566" width="1" height="11" fill="#0000ff"/><rect x="202" y="576" width="13" height="1" fill="#0000ff"/><rect x="205" y="581" width="7" height="1" fill="#0000ff"/><text x="200.5" y="535" fill="#0000ff" font-size="9" letter-spacing="0" font-weight="normal">+</text><text x="201.5" y="558" fill="#0000ff" font-size="10" letter-spacing="0" font-weight="normal">-</text><text x="219" y="552" fill="#008000" stroke="#008000" stroke-width="0.15" font-size="10" textLength="15" lengthAdjust="spacingAndGlyphs">V1</text><text x="160" y="593" fill="#008000" stroke="#008000" stroke-width="0.15" font-size="10" textLength="15" lengthAdjust="spacingAndGlyphs">X8</text><rect x="177" y="99" width="3" height="1" fill="#ff0000"/><rect x="178" y="98" width="1" height="3" fill="#ff0000"/><rect x="225" y="99" width="3" height="1" fill="#ff0000"/><rect x="226" y="98" width="1" height="3" fill="#ff0000"/><rect x="273" y="99" width="3" height="1" fill="#ff0000"/><rect x="274" y="98" width="1" height="3" fill="#ff0000"/><rect x="315" y="99" width="3" height="1" fill="#ff0000"/><rect x="316" y="98" width="1" height="3" fill="#ff0000"/><rect x="369" y="99" width="3" height="1" fill="#ff0000"/><rect x="370" y="98" width="1" height="3" fill="#ff0000"/><rect x="405" y="99" width="3" height="1" fill="#ff0000"/><rect x="406" y="98" width="1" height="3" fill="#ff0000"/><rect x="453" y="99" width="3" height="1" fill="#ff0000"/><rect x="454" y="98" width="1" height="3" fill="#ff0000"/><rect x="477" y="99" width="3" height="1" fill="#ff0000"/><rect x="478" y="98" width="1" height="3" fill="#ff0000"/><rect x="369" y="147" width="3" height="1" fill="#ff0000"/><rect x="370" y="146" width="1" height="3" fill="#ff0000"/><rect x="225" y="171" width="3" height="1" fill="#ff0000"/><rect x="226" y="170" width="1" height="3" fill="#ff0000"/><rect x="273" y="171" width="3" height="1" fill="#ff0000"/><rect x="274" y="170" width="1" height="3" fill="#ff0000"/><rect x="123" y="225" width="3" height="1" fill="#ff0000"/><rect x="124" y="224" width="1" height="3" fill="#ff0000"/><rect x="195" y="225" width="3" height="1" fill="#ff0000"/><rect x="196" y="224" width="1" height="3" fill="#ff0000"/><rect x="249" y="243" width="3" height="1" fill="#ff0000"/><rect x="250" y="242" width="1" height="3" fill="#ff0000"/><rect x="177" y="255" width="3" height="1" fill="#ff0000"/><rect x="178" y="254" width="1" height="3" fill="#ff0000"/><rect x="315" y="171" width="3" height="1" fill="#ff0000"/><rect x="316" y="170" width="1" height="3" fill="#ff0000"/><rect x="369" y="225" width="3" height="1" fill="#ff0000"/><rect x="370" y="224" width="1" height="3" fill="#ff0000"/><rect x="87" y="279" width="3" height="1" fill="#ff0000"/><rect x="88" y="278" width="1" height="3" fill="#ff0000"/><rect x="147" y="303" width="3" height="1" fill="#ff0000"/><rect x="148" y="302" width="1" height="3" fill="#ff0000"/><rect x="207" y="279" width="3" height="1" fill="#ff0000"/><rect x="208" y="278" width="1" height="3" fill="#ff0000"/><rect x="225" y="279" width="3" height="1" fill="#ff0000"/><rect x="226" y="278" width="1" height="3" fill="#ff0000"/><rect x="267" y="279" width="3" height="1" fill="#ff0000"/><rect x="268" y="278" width="1" height="3" fill="#ff0000"/><rect x="315" y="279" width="3" height="1" fill="#ff0000"/><rect x="316" y="278" width="1" height="3" fill="#ff0000"/><rect x="369" y="279" width="3" height="1" fill="#ff0000"/><rect x="370" y="278" width="1" height="3" fill="#ff0000"/><rect x="453" y="279" width="3" height="1" fill="#ff0000"/><rect x="454" y="278" width="1" height="3" fill="#ff0000"/><rect x="87" y="357" width="3" height="1" fill="#ff0000"/><rect x="88" y="356" width="1" height="3" fill="#ff0000"/><rect x="87" y="381" width="3" height="1" fill="#ff0000"/><rect x="88" y="380" width="1" height="3" fill="#ff0000"/><rect x="147" y="357" width="3" height="1" fill="#ff0000"/><rect x="148" y="356" width="1" height="3" fill="#ff0000"/><rect x="147" y="381" width="3" height="1" fill="#ff0000"/><rect x="148" y="380" width="1" height="3" fill="#ff0000"/><rect x="315" y="309" width="3" height="1" fill="#ff0000"/><rect x="316" y="308" width="1" height="3" fill="#ff0000"/><rect x="369" y="309" width="3" height="1" fill="#ff0000"/><rect x="370" y="308" width="1" height="3" fill="#ff0000"/><rect x="405" y="339" width="3" height="1" fill="#ff0000"/><rect x="406" y="338" width="1" height="3" fill="#ff0000"/><rect x="369" y="435" width="3" height="1" fill="#ff0000"/><rect x="370" y="434" width="1" height="3" fill="#ff0000"/><rect x="405" y="435" width="3" height="1" fill="#ff0000"/><rect x="406" y="434" width="1" height="3" fill="#ff0000"/><rect x="453" y="435" width="3" height="1" fill="#ff0000"/><rect x="454" y="434" width="1" height="3" fill="#ff0000"/><rect x="477" y="435" width="3" height="1" fill="#ff0000"/><rect x="478" y="434" width="1" height="3" fill="#ff0000"/><rect x="453" y="327" width="3" height="1" fill="#ff0000"/><rect x="454" y="326" width="1" height="3" fill="#ff0000"/><rect x="453" y="363" width="3" height="1" fill="#ff0000"/><rect x="454" y="362" width="1" height="3" fill="#ff0000"/><rect x="525" y="363" width="3" height="1" fill="#ff0000"/><rect x="526" y="362" width="1" height="3" fill="#ff0000"/><rect x="591" y="363" width="3" height="1" fill="#ff0000"/><rect x="592" y="362" width="1" height="3" fill="#ff0000"/><rect x="525" y="279" width="3" height="1" fill="#ff0000"/><rect x="526" y="278" width="1" height="3" fill="#ff0000"/><rect x="555" y="273" width="3" height="1" fill="#ff0000"/><rect x="556" y="272" width="1" height="3" fill="#ff0000"/><rect x="555" y="321" width="3" height="1" fill="#ff0000"/><rect x="556" y="320" width="1" height="3" fill="#ff0000"/><rect x="39" y="470" width="3" height="1" fill="#ff0000"/><rect x="40" y="469" width="1" height="3" fill="#ff0000"/><rect x="39" y="513" width="3" height="1" fill="#ff0000"/><rect x="40" y="512" width="1" height="3" fill="#ff0000"/><rect x="87" y="471" width="3" height="1" fill="#ff0000"/><rect x="88" y="470" width="1" height="3" fill="#ff0000"/><rect x="135" y="471" width="3" height="1" fill="#ff0000"/><rect x="136" y="470" width="1" height="3" fill="#ff0000"/><rect x="87" y="513" width="3" height="1" fill="#ff0000"/><rect x="88" y="512" width="1" height="3" fill="#ff0000"/></g></svg>
<div style="position:absolute;left:641px;top:112px;width:603px;height:475px;background:#fff;border-left:1px solid #a0a0a0;border-top:1px solid #a0a0a0;box-sizing:border-box"></div>
<div style="position:absolute;left:642px;top:113px;width:602px;height:474px;border-left:1px solid #696969;border-top:1px solid #696969;box-sizing:border-box"></div>
<svg style="position:absolute;left:0;top:0" width="1253" height="614"><g font-family="Liberation Sans, sans-serif"><path d="M787.5 128 L787.5 311" stroke="#808080" stroke-dasharray="3 3" /><path d="M894.5 128 L894.5 311" stroke="#808080" stroke-dasharray="3 3" /><path d="M1002.5 128 L1002.5 311" stroke="#808080" stroke-dasharray="3 3" /><path d="M1109.5 128 L1109.5 311" stroke="#808080" stroke-dasharray="3 3" /><path d="M681 150.5 L1216 150.5" stroke="#808080" stroke-dasharray="3 3" /><path d="M681 173.5 L1216 173.5" stroke="#808080" stroke-dasharray="3 3" /><path d="M681 196.5 L1216 196.5" stroke="#808080" stroke-dasharray="3 3" /><path d="M681 242.5 L1216 242.5" stroke="#808080" stroke-dasharray="3 3" /><path d="M681 265.5 L1216 265.5" stroke="#808080" stroke-dasharray="3 3" /><path d="M681 288.5 L1216 288.5" stroke="#808080" stroke-dasharray="3 3" /><path d="M680 219.5 L1216 219.5" stroke="#0000ff"/><rect x="680.5" y="127.5" width="536" height="184" fill="none" stroke="#808080"/><path d="M680.50 219.50 L680.87 219.50 L681.24 219.50 L681.62 219.50 L681.99 219.50 L682.36 219.50 L682.73 219.50 L683.11 219.50 L683.48 219.50 L683.85 219.50 L684.22 219.50 L684.59 219.50 L684.97 219.50 L685.34 219.50 L685.71 219.50 L686.08 219.50 L686.46 219.50 L686.83 219.50 L687.20 219.50 L687.57 219.50 L687.94 219.50 L688.32 219.50 L688.69 219.50 L689.06 219.50 L689.43 219.50 L689.81 219.50 L690.18 219.50 L690.55 219.50 L690.92 219.50 L691.29 219.50 L691.67 219.50 L692.04 219.50 L692.41 219.50 L692.78 219.50 L693.16 219.50 L693.53 219.50 L693.90 219.50 L694.27 219.50 L694.64 219.50 L695.02 219.50 L695.39 219.50 L695.76 219.50 L696.13 219.50 L696.51 219.50 L696.88 219.50 L697.25 219.50 L697.62 219.50 L697.99 219.50 L698.37 219.50 L698.74 219.50 L699.11 219.50 L699.48 219.50 L699.86 219.50 L700.23 219.50 L700.60 219.50 L700.97 219.50 L701.34 219.50 L701.72 219.50 L702.09 219.50 L702.46 219.50 L702.83 219.50 L703.21 219.50 L703.58 219.50 L703.95 219.50 L704.32 219.50 L704.69 219.50 L705.07 219.50 L705.44 219.50 L705.81 219.50 L706.18 219.50 L706.56 219.50 L706.93 219.50 L707.30 219.50 L707.67 219.50 L708.04 219.50 L708.42 219.50 L708.79 219.50 L709.16 219.50 L709.53 219.50 L709.91 219.50 L710.28 219.50 L710.65 213.54 L711.02 207.63 L711.39 201.78 L711.77 196.05 L712.14 190.45 L712.51 185.04 L712.88 179.84 L713.26 174.89 L713.63 170.21 L714.00 165.83 L714.37 161.79 L714.74 158.10 L715.12 154.78 L715.49 151.87 L715.86 149.38 L716.23 147.31 L716.61 145.70 L716.98 144.53 L717.35 143.83 L717.72 143.60 L718.09 143.83 L718.47 144.53 L718.84 145.70 L719.21 147.31 L719.58 149.38 L719.96 151.87 L720.33 154.78 L720.70 158.10 L721.07 161.79 L721.44 165.83 L721.82 170.21 L722.19 174.89 L722.56 179.84 L722.93 185.04 L723.31 190.45 L723.68 196.05 L724.05 201.78 L724.42 207.63 L724.79 213.54 L725.17 219.50 L725.54 225.46 L725.91 231.37 L726.28 237.22 L726.66 242.95 L727.03 248.55 L727.40 253.96 L727.77 259.16 L728.14 264.11 L728.52 268.79 L728.89 273.17 L729.26 277.21 L729.63 280.90 L730.01 284.22 L730.38 287.13 L730.75 289.62 L731.12 291.69 L731.49 293.30 L731.87 294.47 L732.24 295.17 L732.61 295.40 L732.98 295.17 L733.36 294.47 L733.73 293.30 L734.10 291.69 L734.47 289.62 L734.84 287.13 L735.22 284.22 L735.59 280.90 L735.96 277.21 L736.33 273.17 L736.71 268.79 L737.08 264.11 L737.45 259.16 L737.82 253.96 L738.19 248.55 L738.57 242.95 L738.94 237.22 L739.31 231.37 L739.68 225.46 L740.06 219.50 L740.43 213.54 L740.80 207.63 L741.17 201.78 L741.54 196.05 L741.92 190.45 L742.29 185.04 L742.66 179.84 L743.03 174.89 L743.41 170.21 L743.78 165.83 L744.15 161.79 L744.52 158.10 L744.89 154.78 L745.27 151.87 L745.64 149.38 L746.01 147.31 L746.38 145.70 L746.76 144.53 L747.13 143.83 L747.50 143.60 L747.87 143.83 L748.24 144.53 L748.62 145.70 L748.99 147.31 L749.36 149.38 L749.73 151.87 L750.11 154.78 L750.48 158.10 L750.85 161.79 L751.22 165.83 L751.59 170.21 L751.97 174.89 L752.34 179.84 L752.71 185.04 L753.08 190.45 L753.46 196.05 L753.83 201.78 L754.20 207.63 L754.57 213.54 L754.94 219.50 L755.32 225.46 L755.69 231.37 L756.06 237.22 L756.43 242.95 L756.81 248.55 L757.18 253.96 L757.55 259.16 L757.92 264.11 L758.29 268.79 L758.67 273.17 L759.04 277.21 L759.41 280.90 L759.78 284.22 L760.16 287.13 L760.53 289.62 L760.90 291.69 L761.27 293.30 L761.64 294.47 L762.02 295.17 L762.39 295.40 L762.76 295.17 L763.13 294.47 L763.51 293.30 L763.88 291.69 L764.25 289.62 L764.62 287.13 L764.99 284.22 L765.37 280.90 L765.74 277.21 L766.11 273.17 L766.48 268.79 L766.86 264.11 L767.23 259.16 L767.60 253.96 L767.97 248.55 L768.34 242.95 L768.72 237.22 L769.09 231.37 L769.46 225.46 L769.83 219.50 L770.21 213.54 L770.58 207.63 L770.95 201.78 L771.32 196.05 L771.69 190.45 L772.07 185.04 L772.44 179.84 L772.81 174.89 L773.18 170.21 L773.56 165.83 L773.93 161.79 L774.30 158.10 L774.67 154.78 L775.04 151.87 L775.42 149.38 L775.79 147.31 L776.16 145.70 L776.53 144.53 L776.91 143.83 L777.28 143.60 L777.65 143.83 L778.02 144.53 L778.39 145.70 L778.77 147.31 L779.14 149.38 L779.51 151.87 L779.88 154.78 L780.26 158.10 L780.63 161.79 L781.00 165.83 L781.37 170.21 L781.74 174.89 L782.12 179.84 L782.49 185.04 L782.86 190.45 L783.23 196.05 L783.61 201.78 L783.98 207.63 L784.35 213.54 L784.72 219.50 L785.09 225.46 L785.47 231.37 L785.84 237.22 L786.21 242.95 L786.58 248.55 L786.96 253.96 L787.33 259.16 L787.70 264.11 L788.07 268.79 L788.44 273.17 L788.82 277.21 L789.19 280.90 L789.56 284.22 L789.93 287.13 L790.31 289.62 L790.68 291.69 L791.05 293.30 L791.42 294.47 L791.79 295.17 L792.17 295.40 L792.54 295.17 L792.91 294.47 L793.28 293.30 L793.66 291.69 L794.03 289.62 L794.40 287.13 L794.77 284.22 L795.14 280.90 L795.52 277.21 L795.89 273.17 L796.26 268.79 L796.63 264.11 L797.01 259.16 L797.38 253.96 L797.75 248.55 L798.12 242.95 L798.49 237.22 L798.87 231.37 L799.24 225.46 L799.61 219.50 L799.98 213.54 L800.36 207.63 L800.73 201.78 L801.10 196.05 L801.47 190.45 L801.84 185.04 L802.22 179.84 L802.59 174.89 L802.96 170.21 L803.33 165.83 L803.71 161.79 L804.08 158.10 L804.45 154.78 L804.82 151.87 L805.19 149.38 L805.57 147.31 L805.94 145.70 L806.31 144.53 L806.68 143.83 L807.06 143.60 L807.43 143.83 L807.80 144.53 L808.17 145.70 L808.54 147.31 L808.92 149.38 L809.29 151.87 L809.66 154.78 L810.03 158.10 L810.41 161.79 L810.78 165.83 L811.15 170.21 L811.52 174.89 L811.89 179.84 L812.27 185.04 L812.64 190.45 L813.01 196.05 L813.38 201.78 L813.76 207.63 L814.13 213.54 L814.50 219.50 L814.87 225.46 L815.24 231.37 L815.62 237.22 L815.99 242.95 L816.36 248.55 L816.73 253.96 L817.11 259.16 L817.48 264.11 L817.85 268.79 L818.22 273.17 L818.59 277.21 L818.97 280.90 L819.34 284.22 L819.71 287.13 L820.08 289.62 L820.46 291.69 L820.83 293.30 L821.20 294.47 L821.57 295.17 L821.94 295.40 L822.32 295.17 L822.69 294.47 L823.06 293.30 L823.43 291.69 L823.81 289.62 L824.18 287.13 L824.55 284.22 L824.92 280.90 L825.29 277.21 L825.67 273.17 L826.04 268.79 L826.41 264.11 L826.78 259.16 L827.16 253.96 L827.53 248.55 L827.90 242.95 L828.27 237.22 L828.64 231.37 L829.02 225.46 L829.39 219.50 L829.76 213.54 L830.13 207.63 L830.51 201.78 L830.88 196.05 L831.25 190.45 L831.62 185.04 L831.99 179.84 L832.37 174.89 L832.74 170.21 L833.11 165.83 L833.48 161.79 L833.86 158.10 L834.23 154.78 L834.60 151.87 L834.97 149.38 L835.34 147.31 L835.72 145.70 L836.09 144.53 L836.46 143.83 L836.83 143.60 L837.21 143.83 L837.58 144.53 L837.95 145.70 L838.32 147.31 L838.69 149.38 L839.07 151.87 L839.44 154.78 L839.81 158.10 L840.18 161.79 L840.56 165.83 L840.93 170.21 L841.30 174.89 L841.67 179.84 L842.04 185.04 L842.42 190.45 L842.79 196.05 L843.16 201.78 L843.53 207.63 L843.91 213.54 L844.28 219.50 L844.65 225.46 L845.02 231.37 L845.39 237.22 L845.77 242.95 L846.14 248.55 L846.51 253.96 L846.88 259.16 L847.26 264.11 L847.63 268.79 L848.00 273.17 L848.37 277.21 L848.74 280.90 L849.12 284.22 L849.49 287.13 L849.86 289.62 L850.23 291.69 L850.61 293.30 L850.98 294.47 L851.35 295.17 L851.72 295.40 L852.09 295.17 L852.47 294.47 L852.84 293.30 L853.21 291.69 L853.58 289.62 L853.96 287.13 L854.33 284.22 L854.70 280.90 L855.07 277.21 L855.44 273.17 L855.82 268.79 L856.19 264.11 L856.56 259.16 L856.93 253.96 L857.31 248.55 L857.68 242.95 L858.05 237.22 L858.42 231.37 L858.79 225.46 L859.17 219.50 L859.54 219.50 L859.91 219.50 L860.28 219.50 L860.66 219.50 L861.03 219.50 L861.40 219.50 L861.77 219.50 L862.14 219.50 L862.52 219.50 L862.89 219.50 L863.26 219.50 L863.63 219.50 L864.01 219.50 L864.38 219.50 L864.75 219.50 L865.12 219.50 L865.49 219.50 L865.87 219.50 L866.24 219.50 L866.61 219.50 L866.98 219.50 L867.36 219.50 L867.73 219.50 L868.10 219.50 L868.47 219.50 L868.84 219.50 L869.22 219.50 L869.59 219.50 L869.96 219.50 L870.33 219.50 L870.71 219.50 L871.08 219.50 L871.45 219.50 L871.82 219.50 L872.19 219.50 L872.57 219.50 L872.94 219.50 L873.31 219.50 L873.68 219.50 L874.06 219.50 L874.43 219.50 L874.80 219.50 L875.17 219.50 L875.54 219.50 L875.92 219.50 L876.29 219.50 L876.66 219.50 L877.03 219.50 L877.41 219.50 L877.78 219.50 L878.15 219.50 L878.52 219.50 L878.89 219.50 L879.27 219.50 L879.64 219.50 L880.01 219.50 L880.38 219.50 L880.76 219.50 L881.13 219.50 L881.50 219.50 L881.87 219.50 L882.24 219.50 L882.62 219.50 L882.99 219.50 L883.36 219.50 L883.73 219.50 L884.11 219.50 L884.48 219.50 L884.85 219.50 L885.22 219.50 L885.59 219.50 L885.97 219.50 L886.34 219.50 L886.71 219.50 L887.08 219.50 L887.46 219.50 L887.83 219.50 L888.20 219.50 L888.57 219.50 L888.94 219.50 L889.32 219.50 L889.69 219.50 L890.06 219.50 L890.43 219.50 L890.81 219.50 L891.18 219.50 L891.55 219.50 L891.92 219.50 L892.29 219.50 L892.67 219.50 L893.04 219.50 L893.41 219.50 L893.78 219.50 L894.16 219.50 L894.53 219.50 L894.90 219.50 L895.27 219.50 L895.64 219.50 L896.02 219.50 L896.39 219.50 L896.76 219.50 L897.13 219.50 L897.51 219.50 L897.88 219.50 L898.25 219.50 L898.62 219.50 L898.99 219.50 L899.37 219.50 L899.74 219.50 L900.11 219.50 L900.48 219.50 L900.86 219.50 L901.23 219.50 L901.60 219.50 L901.97 219.50 L902.34 219.50 L902.72 219.50 L903.09 219.50 L903.46 219.50 L903.83 219.50 L904.21 219.50 L904.58 219.50 L904.95 219.50 L905.32 219.50 L905.69 219.50 L906.07 219.50 L906.44 219.50 L906.81 219.50 L907.18 219.50 L907.56 219.50 L907.93 219.50 L908.30 219.50 L908.67 219.50 L909.04 219.50 L909.42 219.50 L909.79 219.50 L910.16 219.50 L910.53 219.50 L910.91 219.50 L911.28 219.50 L911.65 219.50 L912.02 219.50 L912.39 219.50 L912.77 219.50 L913.14 219.50 L913.51 219.50 L913.88 219.50 L914.26 219.50 L914.63 219.50 L915.00 219.50 L915.37 219.50 L915.74 219.50 L916.12 219.50 L916.49 219.50 L916.86 219.50 L917.23 219.50 L917.61 219.50 L917.98 219.50 L918.35 219.50 L918.72 219.50 L919.09 219.50 L919.47 219.50 L919.84 219.50 L920.21 219.50 L920.58 219.50 L920.96 219.50 L921.33 219.50 L921.70 219.50 L922.07 219.50 L922.44 219.50 L922.82 219.50 L923.19 219.50 L923.56 219.50 L923.93 219.50 L924.31 219.50 L924.68 219.50 L925.05 219.50 L925.42 219.50 L925.79 219.50 L926.17 219.50 L926.54 219.50 L926.91 219.50 L927.28 219.50 L927.66 219.50 L928.03 219.50 L928.40 219.50 L928.77 219.50 L929.14 219.50 L929.52 219.50 L929.89 219.50 L930.26 219.50 L930.63 219.50 L931.01 219.50 L931.38 219.50 L931.75 219.50 L932.12 219.50 L932.49 219.50 L932.87 219.50 L933.24 219.50 L933.61 219.50 L933.98 219.50 L934.36 219.50 L934.73 219.50 L935.10 219.50 L935.47 219.50 L935.84 219.50 L936.22 219.50 L936.59 219.50 L936.96 219.50 L937.33 219.50 L937.71 219.50 L938.08 219.50 L938.45 219.50 L938.82 219.50 L939.19 219.50 L939.57 219.50 L939.94 219.50 L940.31 219.50 L940.68 219.50 L941.06 219.50 L941.43 219.50 L941.80 219.50 L942.17 219.50 L942.54 219.50 L942.92 219.50 L943.29 219.50 L943.66 219.50 L944.03 219.50 L944.41 219.50 L944.78 219.50 L945.15 219.50 L945.52 219.50 L945.89 219.50 L946.27 219.50 L946.64 219.50 L947.01 219.50 L947.38 219.50 L947.76 219.50 L948.13 219.50 L948.50 219.50 L948.87 219.50 L949.24 219.50 L949.62 219.50 L949.99 219.50 L950.36 219.50 L950.73 219.50 L951.11 219.50 L951.48 219.50 L951.85 219.50 L952.22 219.50 L952.59 219.50 L952.97 219.50 L953.34 219.50 L953.71 219.50 L954.08 219.50 L954.46 219.50 L954.83 219.50 L955.20 219.50 L955.57 219.50 L955.94 219.50 L956.32 219.50 L956.69 219.50 L957.06 219.50 L957.43 219.50 L957.81 219.50 L958.18 219.50 L958.55 219.50 L958.92 219.50 L959.29 219.50 L959.67 219.50 L960.04 219.50 L960.41 219.50 L960.78 219.50 L961.16 219.50 L961.53 219.50 L961.90 219.50 L962.27 219.50 L962.64 219.50 L963.02 219.50 L963.39 219.50 L963.76 219.50 L964.13 219.50 L964.51 219.50 L964.88 219.50 L965.25 219.50 L965.62 219.50 L965.99 219.50 L966.37 219.50 L966.74 219.50 L967.11 219.50 L967.48 219.50 L967.86 219.50 L968.23 219.50 L968.60 219.50 L968.97 219.50 L969.34 219.50 L969.72 219.50 L970.09 219.50 L970.46 219.50 L970.83 219.50 L971.21 219.50 L971.58 219.50 L971.95 219.50 L972.32 219.50 L972.69 219.50 L973.07 219.50 L973.44 219.50 L973.81 219.50 L974.18 219.50 L974.56 219.50 L974.93 219.50 L975.30 219.50 L975.67 219.50 L976.04 219.50 L976.42 219.50 L976.79 219.50 L977.16 219.50 L977.53 219.50 L977.91 219.50 L978.28 219.50 L978.65 225.46 L979.02 231.37 L979.39 237.22 L979.77 242.95 L980.14 248.55 L980.51 253.96 L980.88 259.16 L981.26 264.11 L981.63 268.79 L982.00 273.17 L982.37 277.21 L982.74 280.90 L983.12 284.22 L983.49 287.13 L983.86 289.62 L984.23 291.69 L984.61 293.30 L984.98 294.47 L985.35 295.17 L985.72 295.40 L986.09 295.17 L986.47 294.47 L986.84 293.30 L987.21 291.69 L987.58 289.62 L987.96 287.13 L988.33 284.22 L988.70 280.90 L989.07 277.21 L989.44 273.17 L989.82 268.79 L990.19 264.11 L990.56 259.16 L990.93 253.96 L991.31 248.55 L991.68 242.95 L992.05 237.22 L992.42 231.37 L992.79 225.46 L993.17 219.50 L993.54 213.54 L993.91 207.63 L994.28 201.78 L994.66 196.05 L995.03 190.45 L995.40 185.04 L995.77 179.84 L996.14 174.89 L996.52 170.21 L996.89 165.83 L997.26 161.79 L997.63 158.10 L998.01 154.78 L998.38 151.87 L998.75 149.38 L999.12 147.31 L999.49 145.70 L999.87 144.53 L1000.24 143.83 L1000.61 143.60 L1000.98 143.83 L1001.36 144.53 L1001.73 145.70 L1002.10 147.31 L1002.47 149.38 L1002.84 151.87 L1003.22 154.78 L1003.59 158.10 L1003.96 161.79 L1004.33 165.83 L1004.71 170.21 L1005.08 174.89 L1005.45 179.84 L1005.82 185.04 L1006.19 190.45 L1006.57 196.05 L1006.94 201.78 L1007.31 207.63 L1007.68 213.54 L1008.06 219.50 L1008.43 225.46 L1008.80 231.37 L1009.17 237.22 L1009.54 242.95 L1009.92 248.55 L1010.29 253.96 L1010.66 259.16 L1011.03 264.11 L1011.41 268.79 L1011.78 273.17 L1012.15 277.21 L1012.52 280.90 L1012.89 284.22 L1013.27 287.13 L1013.64 289.62 L1014.01 291.69 L1014.38 293.30 L1014.76 294.47 L1015.13 295.17 L1015.50 295.40 L1015.87 295.17 L1016.24 294.47 L1016.62 293.30 L1016.99 291.69 L1017.36 289.62 L1017.73 287.13 L1018.11 284.22 L1018.48 280.90 L1018.85 277.21 L1019.22 273.17 L1019.59 268.79 L1019.97 264.11 L1020.34 259.16 L1020.71 253.96 L1021.08 248.55 L1021.46 242.95 L1021.83 237.22 L1022.20 231.37 L1022.57 225.46 L1022.94 219.50 L1023.32 213.54 L1023.69 207.63 L1024.06 201.78 L1024.43 196.05 L1024.81 190.45 L1025.18 185.04 L1025.55 179.84 L1025.92 174.89 L1026.29 170.21 L1026.67 165.83 L1027.04 161.79 L1027.41 158.10 L1027.78 154.78 L1028.16 151.87 L1028.53 149.38 L1028.90 147.31 L1029.27 145.70 L1029.64 144.53 L1030.02 143.83 L1030.39 143.60 L1030.76 143.83 L1031.13 144.53 L1031.51 145.70 L1031.88 147.31 L1032.25 149.38 L1032.62 151.87 L1032.99 154.78 L1033.37 158.10 L1033.74 161.79 L1034.11 165.83 L1034.48 170.21 L1034.86 174.89 L1035.23 179.84 L1035.60 185.04 L1035.97 190.45 L1036.34 196.05 L1036.72 201.78 L1037.09 207.63 L1037.46 213.54 L1037.83 219.50 L1038.21 225.46 L1038.58 231.37 L1038.95 237.22 L1039.32 242.95 L1039.69 248.55 L1040.07 253.96 L1040.44 259.16 L1040.81 264.11 L1041.18 268.79 L1041.56 273.17 L1041.93 277.21 L1042.30 280.90 L1042.67 284.22 L1043.04 287.13 L1043.42 289.62 L1043.79 291.69 L1044.16 293.30 L1044.53 294.47 L1044.91 295.17 L1045.28 295.40 L1045.65 295.17 L1046.02 294.47 L1046.39 293.30 L1046.77 291.69 L1047.14 289.62 L1047.51 287.13 L1047.88 284.22 L1048.26 280.90 L1048.63 277.21 L1049.00 273.17 L1049.37 268.79 L1049.74 264.11 L1050.12 259.16 L1050.49 253.96 L1050.86 248.55 L1051.23 242.95 L1051.61 237.22 L1051.98 231.37 L1052.35 225.46 L1052.72 219.50 L1053.09 213.54 L1053.47 207.63 L1053.84 201.78 L1054.21 196.05 L1054.58 190.45 L1054.96 185.04 L1055.33 179.84 L1055.70 174.89 L1056.07 170.21 L1056.44 165.83 L1056.82 161.79 L1057.19 158.10 L1057.56 154.78 L1057.93 151.87 L1058.31 149.38 L1058.68 147.31 L1059.05 145.70 L1059.42 144.53 L1059.79 143.83 L1060.17 143.60 L1060.54 143.83 L1060.91 144.53 L1061.28 145.70 L1061.66 147.31 L1062.03 149.38 L1062.40 151.87 L1062.77 154.78 L1063.14 158.10 L1063.52 161.79 L1063.89 165.83 L1064.26 170.21 L1064.63 174.89 L1065.01 179.84 L1065.38 185.04 L1065.75 190.45 L1066.12 196.05 L1066.49 201.78 L1066.87 207.63 L1067.24 213.54 L1067.61 219.50 L1067.98 225.46 L1068.36 231.37 L1068.73 237.22 L1069.10 242.95 L1069.47 248.55 L1069.84 253.96 L1070.22 259.16 L1070.59 264.11 L1070.96 268.79 L1071.33 273.17 L1071.71 277.21 L1072.08 280.90 L1072.45 284.22 L1072.82 287.13 L1073.19 289.62 L1073.57 291.69 L1073.94 293.30 L1074.31 294.47 L1074.68 295.17 L1075.06 295.40 L1075.43 295.17 L1075.80 294.47 L1076.17 293.30 L1076.54 291.69 L1076.92 289.62 L1077.29 287.13 L1077.66 284.22 L1078.03 280.90 L1078.41 277.21 L1078.78 273.17 L1079.15 268.79 L1079.52 264.11 L1079.89 259.16 L1080.27 253.96 L1080.64 248.55 L1081.01 242.95 L1081.38 237.22 L1081.76 231.37 L1082.13 225.46 L1082.50 219.50 L1082.87 213.54 L1083.24 207.63 L1083.62 201.78 L1083.99 196.05 L1084.36 190.45 L1084.73 185.04 L1085.11 179.84 L1085.48 174.89 L1085.85 170.21 L1086.22 165.83 L1086.59 161.79 L1086.97 158.10 L1087.34 154.78 L1087.71 151.87 L1088.08 149.38 L1088.46 147.31 L1088.83 145.70 L1089.20 144.53 L1089.57 143.83 L1089.94 143.60 L1090.32 143.83 L1090.69 144.53 L1091.06 145.70 L1091.43 147.31 L1091.81 149.38 L1092.18 151.87 L1092.55 154.78 L1092.92 158.10 L1093.29 161.79 L1093.67 165.83 L1094.04 170.21 L1094.41 174.89 L1094.78 179.84 L1095.16 185.04 L1095.53 190.45 L1095.90 196.05 L1096.27 201.78 L1096.64 207.63 L1097.02 213.54 L1097.39 219.50 L1097.76 225.46 L1098.13 231.37 L1098.51 237.22 L1098.88 242.95 L1099.25 248.55 L1099.62 253.96 L1099.99 259.16 L1100.37 264.11 L1100.74 268.79 L1101.11 273.17 L1101.48 277.21 L1101.86 280.90 L1102.23 284.22 L1102.60 287.13 L1102.97 289.62 L1103.34 291.69 L1103.72 293.30 L1104.09 294.47 L1104.46 295.17 L1104.83 295.40 L1105.21 295.17 L1105.58 294.47 L1105.95 293.30 L1106.32 291.69 L1106.69 289.62 L1107.07 287.13 L1107.44 284.22 L1107.81 280.90 L1108.18 277.21 L1108.56 273.17 L1108.93 268.79 L1109.30 264.11 L1109.67 259.16 L1110.04 253.96 L1110.42 248.55 L1110.79 242.95 L1111.16 237.22 L1111.53 231.37 L1111.91 225.46 L1112.28 219.50 L1112.65 213.54 L1113.02 207.63 L1113.39 201.78 L1113.77 196.05 L1114.14 190.45 L1114.51 185.04 L1114.88 179.84 L1115.26 174.89 L1115.63 170.21 L1116.00 165.83 L1116.37 161.79 L1116.74 158.10 L1117.12 154.78 L1117.49 151.87 L1117.86 149.38 L1118.23 147.31 L1118.61 145.70 L1118.98 144.53 L1119.35 143.83 L1119.72 143.60 L1120.09 143.83 L1120.47 144.53 L1120.84 145.70 L1121.21 147.31 L1121.58 149.38 L1121.96 151.87 L1122.33 154.78 L1122.70 158.10 L1123.07 161.79 L1123.44 165.83 L1123.82 170.21 L1124.19 174.89 L1124.56 179.84 L1124.93 185.04 L1125.31 190.45 L1125.68 196.05 L1126.05 201.78 L1126.42 207.63 L1126.79 213.54 L1127.17 219.50 L1127.54 219.50 L1127.91 219.50 L1128.28 219.50 L1128.66 219.50 L1129.03 219.50 L1129.40 219.50 L1129.77 219.50 L1130.14 219.50 L1130.52 219.50 L1130.89 219.50 L1131.26 219.50 L1131.63 219.50 L1132.01 219.50 L1132.38 219.50 L1132.75 219.50 L1133.12 219.50 L1133.49 219.50 L1133.87 219.50 L1134.24 219.50 L1134.61 219.50 L1134.98 219.50 L1135.36 219.50 L1135.73 219.50 L1136.10 219.50 L1136.47 219.50 L1136.84 219.50 L1137.22 219.50 L1137.59 219.50 L1137.96 219.50 L1138.33 219.50 L1138.71 219.50 L1139.08 219.50 L1139.45 219.50 L1139.82 219.50 L1140.19 219.50 L1140.57 219.50 L1140.94 219.50 L1141.31 219.50 L1141.68 219.50 L1142.06 219.50 L1142.43 219.50 L1142.80 219.50 L1143.17 219.50 L1143.54 219.50 L1143.92 219.50 L1144.29 219.50 L1144.66 219.50 L1145.03 219.50 L1145.41 219.50 L1145.78 219.50 L1146.15 219.50 L1146.52 219.50 L1146.89 219.50 L1147.27 219.50 L1147.64 219.50 L1148.01 219.50 L1148.38 219.50 L1148.76 219.50 L1149.13 219.50 L1149.50 219.50 L1149.87 219.50 L1150.24 219.50 L1150.62 219.50 L1150.99 219.50 L1151.36 219.50 L1151.73 219.50 L1152.11 219.50 L1152.48 219.50 L1152.85 219.50 L1153.22 219.50 L1153.59 219.50 L1153.97 219.50 L1154.34 219.50 L1154.71 219.50 L1155.08 219.50 L1155.46 219.50 L1155.83 219.50 L1156.20 219.50 L1156.57 219.50 L1156.94 219.50 L1157.32 219.50 L1157.69 219.50 L1158.06 219.50 L1158.43 219.50 L1158.81 219.50 L1159.18 219.50 L1159.55 219.50 L1159.92 219.50 L1160.29 219.50 L1160.67 219.50 L1161.04 219.50 L1161.41 219.50 L1161.78 219.50 L1162.16 219.50 L1162.53 219.50 L1162.90 219.50 L1163.27 219.50 L1163.64 219.50 L1164.02 219.50 L1164.39 219.50 L1164.76 219.50 L1165.13 219.50 L1165.51 219.50 L1165.88 219.50 L1166.25 219.50 L1166.62 219.50 L1166.99 219.50 L1167.37 219.50 L1167.74 219.50 L1168.11 219.50 L1168.48 219.50 L1168.86 219.50 L1169.23 219.50 L1169.60 219.50 L1169.97 219.50 L1170.34 219.50 L1170.72 219.50 L1171.09 219.50 L1171.46 219.50 L1171.83 219.50 L1172.21 219.50 L1172.58 219.50 L1172.95 219.50 L1173.32 219.50 L1173.69 219.50 L1174.07 219.50 L1174.44 219.50 L1174.81 219.50 L1175.18 219.50 L1175.56 219.50 L1175.93 219.50 L1176.30 219.50 L1176.67 219.50 L1177.04 219.50 L1177.42 219.50 L1177.79 219.50 L1178.16 219.50 L1178.53 219.50 L1178.91 219.50 L1179.28 219.50 L1179.65 219.50 L1180.02 219.50 L1180.39 219.50 L1180.77 219.50 L1181.14 219.50 L1181.51 219.50 L1181.88 219.50 L1182.26 219.50 L1182.63 219.50 L1183.00 219.50 L1183.37 219.50 L1183.74 219.50 L1184.12 219.50 L1184.49 219.50 L1184.86 219.50 L1185.23 219.50 L1185.61 219.50 L1185.98 219.50 L1186.35 219.50 L1186.72 219.50 L1187.09 219.50 L1187.47 219.50 L1187.84 219.50 L1188.21 219.50 L1188.58 219.50 L1188.96 219.50 L1189.33 219.50 L1189.70 219.50 L1190.07 219.50 L1190.44 219.50 L1190.82 219.50 L1191.19 219.50 L1191.56 219.50 L1191.93 219.50 L1192.31 219.50 L1192.68 219.50 L1193.05 219.50 L1193.42 219.50 L1193.79 219.50 L1194.17 219.50 L1194.54 219.50 L1194.91 219.50 L1195.28 219.50 L1195.66 219.50 L1196.03 219.50 L1196.40 219.50 L1196.77 219.50 L1197.14 219.50 L1197.52 219.50 L1197.89 219.50 L1198.26 219.50 L1198.63 219.50 L1199.01 219.50 L1199.38 219.50 L1199.75 219.50 L1200.12 219.50 L1200.49 219.50 L1200.87 219.50 L1201.24 219.50 L1201.61 219.50 L1201.98 219.50 L1202.36 219.50 L1202.73 219.50 L1203.10 219.50 L1203.47 219.50 L1203.84 219.50 L1204.22 219.50 L1204.59 219.50 L1204.96 219.50 L1205.33 219.50 L1205.71 219.50 L1206.08 219.50 L1206.45 219.50 L1206.82 219.50 L1207.19 219.50 L1207.57 219.50 L1207.94 219.50 L1208.31 219.50 L1208.68 219.50 L1209.06 219.50 L1209.43 219.50 L1209.80 219.50 L1210.17 219.50 L1210.54 219.50 L1210.92 219.50 L1211.29 219.50 L1211.66 219.50 L1212.03 219.50 L1212.41 219.50 L1212.78 219.50 L1213.15 219.50 L1213.52 219.50 L1213.89 219.50 L1214.27 219.50 L1214.64 219.50 L1215.01 219.50 L1215.38 219.50 L1215.76 219.50 L1216.13 219.50 L1216.50 219.50" stroke="#000000" stroke-width="3.4" fill="none" stroke-linejoin="round"/><text x="677.5" y="130.5" text-anchor="end" fill="#0000ff" font-size="9.2" letter-spacing="0.7">4.000</text><text x="677.5" y="153.5" text-anchor="end" fill="#0000ff" font-size="9.2" letter-spacing="0.7">3.000</text><text x="677.5" y="176.5" text-anchor="end" fill="#0000ff" font-size="9.2" letter-spacing="0.7">2.000</text><text x="677.5" y="199.5" text-anchor="end" fill="#0000ff" font-size="9.2" letter-spacing="0.7">1.000</text><text x="677.5" y="222.5" text-anchor="end" fill="#0000ff" font-size="9.2" letter-spacing="0.7">0.000</text><text x="677.5" y="245.5" text-anchor="end" fill="#0000ff" font-size="9.2" letter-spacing="0.7">-1.000</text><text x="677.5" y="268.5" text-anchor="end" fill="#0000ff" font-size="9.2" letter-spacing="0.7">-2.000</text><text x="677.5" y="291.5" text-anchor="end" fill="#0000ff" font-size="9.2" letter-spacing="0.7">-3.000</text><text x="677.5" y="314.5" text-anchor="end" fill="#0000ff" font-size="9.2" letter-spacing="0.7">-4.000</text><text x="680" y="322" fill="#0000ff" font-size="9.2" letter-spacing="0.85">0.000m</text><text x="787.4000000000001" y="322" text-anchor="middle" fill="#0000ff" font-size="9.2" letter-spacing="0.85">72.000m</text><text x="894.6" y="322" text-anchor="middle" fill="#0000ff" font-size="9.2" letter-spacing="0.85">144.000m</text><text x="1001.8000000000001" y="322" text-anchor="middle" fill="#0000ff" font-size="9.2" letter-spacing="0.85">216.000m</text><text x="1109.0" y="322" text-anchor="middle" fill="#0000ff" font-size="9.2" letter-spacing="0.85">288.000m</text><text x="1216.2" y="322" text-anchor="middle" fill="#0000ff" font-size="9.2" letter-spacing="0.85">360.000m</text><text x="680" y="335.5" fill="#202020" font-size="10" >v(in) (V)</text><text x="878" y="348.5" fill="#0000ff" font-size="10">T (Secs)</text><text x="948" y="124" text-anchor="middle" fill="#0000ff" font-size="10" letter-spacing="0.15">Kenwood_KA9100-SC_50Hz-burst.CIR</text><path d="M787.5 359 L787.5 542" stroke="#808080" stroke-dasharray="3 3" /><path d="M894.5 359 L894.5 542" stroke="#808080" stroke-dasharray="3 3" /><path d="M1002.5 359 L1002.5 542" stroke="#808080" stroke-dasharray="3 3" /><path d="M1109.5 359 L1109.5 542" stroke="#808080" stroke-dasharray="3 3" /><path d="M681 381.5 L1216 381.5" stroke="#808080" stroke-dasharray="3 3" /><path d="M681 404.5 L1216 404.5" stroke="#808080" stroke-dasharray="3 3" /><path d="M681 427.5 L1216 427.5" stroke="#808080" stroke-dasharray="3 3" /><path d="M681 473.5 L1216 473.5" stroke="#808080" stroke-dasharray="3 3" /><path d="M681 496.5 L1216 496.5" stroke="#808080" stroke-dasharray="3 3" /><path d="M681 519.5 L1216 519.5" stroke="#808080" stroke-dasharray="3 3" /><path d="M680 450.5 L1216 450.5" stroke="#0000ff"/><rect x="680.5" y="358.5" width="536" height="184" fill="none" stroke="#808080"/><path d="M680.50 450.50 L680.87 450.50 L681.24 450.50 L681.62 450.50 L681.99 450.50 L682.36 450.50 L682.73 450.50 L683.11 450.50 L683.48 450.50 L683.85 450.50 L684.22 450.50 L684.59 450.50 L684.97 450.50 L685.34 450.50 L685.71 450.50 L686.08 450.50 L686.46 450.50 L686.83 450.50 L687.20 450.50 L687.57 450.50 L687.94 450.50 L688.32 450.50 L688.69 450.50 L689.06 450.50 L689.43 450.50 L689.81 450.50 L690.18 450.50 L690.55 450.50 L690.92 450.50 L691.29 450.50 L691.67 450.50 L692.04 450.50 L692.41 450.50 L692.78 450.50 L693.16 450.50 L693.53 450.50 L693.90 450.50 L694.27 450.50 L694.64 450.50 L695.02 450.50 L695.39 450.50 L695.76 450.50 L696.13 450.50 L696.51 450.50 L696.88 450.50 L697.25 450.50 L697.62 450.50 L697.99 450.50 L698.37 450.50 L698.74 450.50 L699.11 450.50 L699.48 450.50 L699.86 450.50 L700.23 450.50 L700.60 450.50 L700.97 450.50 L701.34 450.50 L701.72 450.50 L702.09 450.50 L702.46 450.50 L702.83 450.50 L703.21 450.50 L703.58 450.50 L703.95 450.50 L704.32 450.50 L704.69 450.50 L705.07 450.50 L705.44 450.50 L705.81 450.50 L706.18 450.50 L706.56 450.50 L706.93 450.50 L707.30 450.50 L707.67 450.50 L708.04 450.50 L708.42 450.50 L708.79 450.50 L709.16 450.50 L709.53 450.50 L709.91 450.50 L710.28 450.50 L710.65 445.09 L711.02 439.71 L711.39 434.39 L711.77 429.18 L712.14 424.09 L712.51 419.17 L712.88 414.45 L713.26 409.94 L713.63 405.69 L714.00 401.71 L714.37 398.03 L714.74 394.68 L715.12 391.67 L715.49 389.02 L715.86 386.75 L716.23 384.88 L716.61 383.41 L716.98 382.35 L717.35 381.71 L717.72 381.50 L718.09 381.71 L718.47 382.35 L718.84 383.41 L719.21 384.88 L719.58 386.75 L719.96 389.02 L720.33 391.67 L720.70 394.68 L721.07 398.03 L721.44 401.71 L721.82 405.69 L722.19 409.94 L722.56 414.45 L722.93 419.17 L723.31 424.09 L723.68 429.18 L724.05 434.39 L724.42 439.71 L724.79 445.09 L725.17 450.50 L725.54 455.91 L725.91 461.29 L726.28 466.61 L726.66 471.82 L727.03 476.91 L727.40 481.83 L727.77 486.55 L728.14 491.06 L728.52 495.31 L728.89 499.29 L729.26 502.97 L729.63 506.32 L730.01 509.33 L730.38 511.98 L730.75 514.25 L731.12 516.12 L731.49 517.59 L731.87 518.65 L732.24 519.29 L732.61 519.50 L732.98 519.29 L733.36 518.65 L733.73 517.59 L734.10 516.12 L734.47 514.25 L734.84 511.98 L735.22 509.33 L735.59 506.32 L735.96 502.97 L736.33 499.29 L736.71 495.31 L737.08 491.06 L737.45 486.55 L737.82 481.83 L738.19 476.91 L738.57 471.82 L738.94 466.61 L739.31 461.29 L739.68 455.91 L740.06 450.50 L740.43 445.09 L740.80 439.71 L741.17 434.39 L741.54 429.18 L741.92 424.09 L742.29 419.17 L742.66 414.45 L743.03 409.94 L743.41 405.69 L743.78 401.71 L744.15 398.03 L744.52 394.68 L744.89 391.67 L745.27 389.02 L745.64 386.75 L746.01 384.88 L746.38 383.41 L746.76 382.35 L747.13 381.71 L747.50 381.50 L747.87 381.71 L748.24 382.35 L748.62 383.41 L748.99 384.88 L749.36 386.75 L749.73 389.02 L750.11 391.67 L750.48 394.68 L750.85 398.03 L751.22 401.71 L751.59 405.69 L751.97 409.94 L752.34 414.45 L752.71 419.17 L753.08 424.09 L753.46 429.18 L753.83 434.39 L754.20 439.71 L754.57 445.09 L754.94 450.50 L755.32 455.91 L755.69 461.29 L756.06 466.61 L756.43 471.82 L756.81 476.91 L757.18 481.83 L757.55 486.55 L757.92 491.06 L758.29 495.31 L758.67 499.29 L759.04 502.97 L759.41 506.32 L759.78 509.33 L760.16 511.98 L760.53 514.25 L760.90 516.12 L761.27 517.59 L761.64 518.65 L762.02 519.29 L762.39 519.50 L762.76 519.29 L763.13 518.65 L763.51 517.59 L763.88 516.12 L764.25 514.25 L764.62 511.98 L764.99 509.33 L765.37 506.32 L765.74 502.97 L766.11 499.29 L766.48 495.31 L766.86 491.06 L767.23 486.55 L767.60 481.83 L767.97 476.91 L768.34 471.82 L768.72 466.61 L769.09 461.29 L769.46 455.91 L769.83 450.50 L770.21 445.09 L770.58 439.71 L770.95 434.39 L771.32 429.18 L771.69 424.09 L772.07 419.17 L772.44 414.45 L772.81 409.94 L773.18 405.69 L773.56 401.71 L773.93 398.03 L774.30 394.68 L774.67 391.67 L775.04 389.02 L775.42 386.75 L775.79 384.88 L776.16 383.41 L776.53 382.35 L776.91 381.71 L777.28 381.50 L777.65 381.71 L778.02 382.35 L778.39 383.41 L778.77 384.88 L779.14 386.75 L779.51 389.02 L779.88 391.67 L780.26 394.68 L780.63 398.03 L781.00 401.71 L781.37 405.69 L781.74 409.94 L782.12 414.45 L782.49 419.17 L782.86 424.09 L783.23 429.18 L783.61 434.39 L783.98 439.71 L784.35 445.09 L784.72 450.50 L785.09 455.91 L785.47 461.29 L785.84 466.61 L786.21 471.82 L786.58 476.91 L786.96 481.83 L787.33 486.55 L787.70 491.06 L788.07 495.31 L788.44 499.29 L788.82 502.97 L789.19 506.32 L789.56 509.33 L789.93 511.98 L790.31 514.25 L790.68 516.12 L791.05 517.59 L791.42 518.65 L791.79 519.29 L792.17 519.50 L792.54 519.29 L792.91 518.65 L793.28 517.59 L793.66 516.12 L794.03 514.25 L794.40 511.98 L794.77 509.33 L795.14 506.32 L795.52 502.97 L795.89 499.29 L796.26 495.31 L796.63 491.06 L797.01 486.55 L797.38 481.83 L797.75 476.91 L798.12 471.82 L798.49 466.61 L798.87 461.29 L799.24 455.91 L799.61 450.50 L799.98 445.09 L800.36 439.71 L800.73 434.39 L801.10 429.18 L801.47 424.09 L801.84 419.17 L802.22 414.45 L802.59 409.94 L802.96 405.69 L803.33 401.71 L803.71 398.03 L804.08 394.68 L804.45 391.67 L804.82 389.02 L805.19 386.75 L805.57 384.88 L805.94 383.41 L806.31 382.35 L806.68 381.71 L807.06 381.50 L807.43 381.71 L807.80 382.35 L808.17 383.41 L808.54 384.88 L808.92 386.75 L809.29 389.02 L809.66 391.67 L810.03 394.68 L810.41 398.03 L810.78 401.71 L811.15 405.69 L811.52 409.94 L811.89 414.45 L812.27 419.17 L812.64 424.09 L813.01 429.18 L813.38 434.39 L813.76 439.71 L814.13 445.09 L814.50 450.50 L814.87 455.91 L815.24 461.29 L815.62 466.61 L815.99 471.82 L816.36 476.91 L816.73 481.83 L817.11 486.55 L817.48 491.06 L817.85 495.31 L818.22 499.29 L818.59 502.97 L818.97 506.32 L819.34 509.33 L819.71 511.98 L820.08 514.25 L820.46 516.12 L820.83 517.59 L821.20 518.65 L821.57 519.29 L821.94 519.50 L822.32 519.29 L822.69 518.65 L823.06 517.59 L823.43 516.12 L823.81 514.25 L824.18 511.98 L824.55 509.33 L824.92 506.32 L825.29 502.97 L825.67 499.29 L826.04 495.31 L826.41 491.06 L826.78 486.55 L827.16 481.83 L827.53 476.91 L827.90 471.82 L828.27 466.61 L828.64 461.29 L829.02 455.91 L829.39 450.50 L829.76 445.09 L830.13 439.71 L830.51 434.39 L830.88 429.18 L831.25 424.09 L831.62 419.17 L831.99 414.45 L832.37 409.94 L832.74 405.69 L833.11 401.71 L833.48 398.03 L833.86 394.68 L834.23 391.67 L834.60 389.02 L834.97 386.75 L835.34 384.88 L835.72 383.41 L836.09 382.35 L836.46 381.71 L836.83 381.50 L837.21 381.71 L837.58 382.35 L837.95 383.41 L838.32 384.88 L838.69 386.75 L839.07 389.02 L839.44 391.67 L839.81 394.68 L840.18 398.03 L840.56 401.71 L840.93 405.69 L841.30 409.94 L841.67 414.45 L842.04 419.17 L842.42 424.09 L842.79 429.18 L843.16 434.39 L843.53 439.71 L843.91 445.09 L844.28 450.50 L844.65 455.91 L845.02 461.29 L845.39 466.61 L845.77 471.82 L846.14 476.91 L846.51 481.83 L846.88 486.55 L847.26 491.06 L847.63 495.31 L848.00 499.29 L848.37 502.97 L848.74 506.32 L849.12 509.33 L849.49 511.98 L849.86 514.25 L850.23 516.12 L850.61 517.59 L850.98 518.65 L851.35 519.29 L851.72 519.50 L852.09 519.29 L852.47 518.65 L852.84 517.59 L853.21 516.12 L853.58 514.25 L853.96 511.98 L854.33 509.33 L854.70 506.32 L855.07 502.97 L855.44 499.29 L855.82 495.31 L856.19 491.06 L856.56 486.55 L856.93 481.83 L857.31 476.91 L857.68 471.82 L858.05 466.61 L858.42 461.29 L858.79 455.91 L859.17 450.50 L859.54 450.50 L859.91 450.50 L860.28 450.50 L860.66 450.50 L861.03 450.50 L861.40 450.50 L861.77 450.50 L862.14 450.50 L862.52 450.50 L862.89 450.50 L863.26 450.50 L863.63 450.50 L864.01 450.50 L864.38 450.50 L864.75 450.50 L865.12 450.50 L865.49 450.50 L865.87 450.50 L866.24 450.50 L866.61 450.50 L866.98 450.50 L867.36 450.50 L867.73 450.50 L868.10 450.50 L868.47 450.50 L868.84 450.50 L869.22 450.50 L869.59 450.50 L869.96 450.50 L870.33 450.50 L870.71 450.50 L871.08 450.50 L871.45 450.50 L871.82 450.50 L872.19 450.50 L872.57 450.50 L872.94 450.50 L873.31 450.50 L873.68 450.50 L874.06 450.50 L874.43 450.50 L874.80 450.50 L875.17 450.50 L875.54 450.50 L875.92 450.50 L876.29 450.50 L876.66 450.50 L877.03 450.50 L877.41 450.50 L877.78 450.50 L878.15 450.50 L878.52 450.50 L878.89 450.50 L879.27 450.50 L879.64 450.50 L880.01 450.50 L880.38 450.50 L880.76 450.50 L881.13 450.50 L881.50 450.50 L881.87 450.50 L882.24 450.50 L882.62 450.50 L882.99 450.50 L883.36 450.50 L883.73 450.50 L884.11 450.50 L884.48 450.50 L884.85 450.50 L885.22 450.50 L885.59 450.50 L885.97 450.50 L886.34 450.50 L886.71 450.50 L887.08 450.50 L887.46 450.50 L887.83 450.50 L888.20 450.50 L888.57 450.50 L888.94 450.50 L889.32 450.50 L889.69 450.50 L890.06 450.50 L890.43 450.50 L890.81 450.50 L891.18 450.50 L891.55 450.50 L891.92 450.50 L892.29 450.50 L892.67 450.50 L893.04 450.50 L893.41 450.50 L893.78 450.50 L894.16 450.50 L894.53 450.50 L894.90 450.50 L895.27 450.50 L895.64 450.50 L896.02 450.50 L896.39 450.50 L896.76 450.50 L897.13 450.50 L897.51 450.50 L897.88 450.50 L898.25 450.50 L898.62 450.50 L898.99 450.50 L899.37 450.50 L899.74 450.50 L900.11 450.50 L900.48 450.50 L900.86 450.50 L901.23 450.50 L901.60 450.50 L901.97 450.50 L902.34 450.50 L902.72 450.50 L903.09 450.50 L903.46 450.50 L903.83 450.50 L904.21 450.50 L904.58 450.50 L904.95 450.50 L905.32 450.50 L905.69 450.50 L906.07 450.50 L906.44 450.50 L906.81 450.50 L907.18 450.50 L907.56 450.50 L907.93 450.50 L908.30 450.50 L908.67 450.50 L909.04 450.50 L909.42 450.50 L909.79 450.50 L910.16 450.50 L910.53 450.50 L910.91 450.50 L911.28 450.50 L911.65 450.50 L912.02 450.50 L912.39 450.50 L912.77 450.50 L913.14 450.50 L913.51 450.50 L913.88 450.50 L914.26 450.50 L914.63 450.50 L915.00 450.50 L915.37 450.50 L915.74 450.50 L916.12 450.50 L916.49 450.50 L916.86 450.50 L917.23 450.50 L917.61 450.50 L917.98 450.50 L918.35 450.50 L918.72 450.50 L919.09 450.50 L919.47 450.50 L919.84 450.50 L920.21 450.50 L920.58 450.50 L920.96 450.50 L921.33 450.50 L921.70 450.50 L922.07 450.50 L922.44 450.50 L922.82 450.50 L923.19 450.50 L923.56 450.50 L923.93 450.50 L924.31 450.50 L924.68 450.50 L925.05 450.50 L925.42 450.50 L925.79 450.50 L926.17 450.50 L926.54 450.50 L926.91 450.50 L927.28 450.50 L927.66 450.50 L928.03 450.50 L928.40 450.50 L928.77 450.50 L929.14 450.50 L929.52 450.50 L929.89 450.50 L930.26 450.50 L930.63 450.50 L931.01 450.50 L931.38 450.50 L931.75 450.50 L932.12 450.50 L932.49 450.50 L932.87 450.50 L933.24 450.50 L933.61 450.50 L933.98 450.50 L934.36 450.50 L934.73 450.50 L935.10 450.50 L935.47 450.50 L935.84 450.50 L936.22 450.50 L936.59 450.50 L936.96 450.50 L937.33 450.50 L937.71 450.50 L938.08 450.50 L938.45 450.50 L938.82 450.50 L939.19 450.50 L939.57 450.50 L939.94 450.50 L940.31 450.50 L940.68 450.50 L941.06 450.50 L941.43 450.50 L941.80 450.50 L942.17 450.50 L942.54 450.50 L942.92 450.50 L943.29 450.50 L943.66 450.50 L944.03 450.50 L944.41 450.50 L944.78 450.50 L945.15 450.50 L945.52 450.50 L945.89 450.50 L946.27 450.50 L946.64 450.50 L947.01 450.50 L947.38 450.50 L947.76 450.50 L948.13 450.50 L948.50 450.50 L948.87 450.50 L949.24 450.50 L949.62 450.50 L949.99 450.50 L950.36 450.50 L950.73 450.50 L951.11 450.50 L951.48 450.50 L951.85 450.50 L952.22 450.50 L952.59 450.50 L952.97 450.50 L953.34 450.50 L953.71 450.50 L954.08 450.50 L954.46 450.50 L954.83 450.50 L955.20 450.50 L955.57 450.50 L955.94 450.50 L956.32 450.50 L956.69 450.50 L957.06 450.50 L957.43 450.50 L957.81 450.50 L958.18 450.50 L958.55 450.50 L958.92 450.50 L959.29 450.50 L959.67 450.50 L960.04 450.50 L960.41 450.50 L960.78 450.50 L961.16 450.50 L961.53 450.50 L961.90 450.50 L962.27 450.50 L962.64 450.50 L963.02 450.50 L963.39 450.50 L963.76 450.50 L964.13 450.50 L964.51 450.50 L964.88 450.50 L965.25 450.50 L965.62 450.50 L965.99 450.50 L966.37 450.50 L966.74 450.50 L967.11 450.50 L967.48 450.50 L967.86 450.50 L968.23 450.50 L968.60 450.50 L968.97 450.50 L969.34 450.50 L969.72 450.50 L970.09 450.50 L970.46 450.50 L970.83 450.50 L971.21 450.50 L971.58 450.50 L971.95 450.50 L972.32 450.50 L972.69 450.50 L973.07 450.50 L973.44 450.50 L973.81 450.50 L974.18 450.50 L974.56 450.50 L974.93 450.50 L975.30 450.50 L975.67 450.50 L976.04 450.50 L976.42 450.50 L976.79 450.50 L977.16 450.50 L977.53 450.50 L977.91 450.50 L978.28 450.50 L978.65 455.91 L979.02 461.29 L979.39 466.61 L979.77 471.82 L980.14 476.91 L980.51 481.83 L980.88 486.55 L981.26 491.06 L981.63 495.31 L982.00 499.29 L982.37 502.97 L982.74 506.32 L983.12 509.33 L983.49 511.98 L983.86 514.25 L984.23 516.12 L984.61 517.59 L984.98 518.65 L985.35 519.29 L985.72 519.50 L986.09 519.29 L986.47 518.65 L986.84 517.59 L987.21 516.12 L987.58 514.25 L987.96 511.98 L988.33 509.33 L988.70 506.32 L989.07 502.97 L989.44 499.29 L989.82 495.31 L990.19 491.06 L990.56 486.55 L990.93 481.83 L991.31 476.91 L991.68 471.82 L992.05 466.61 L992.42 461.29 L992.79 455.91 L993.17 450.50 L993.54 445.09 L993.91 439.71 L994.28 434.39 L994.66 429.18 L995.03 424.09 L995.40 419.17 L995.77 414.45 L996.14 409.94 L996.52 405.69 L996.89 401.71 L997.26 398.03 L997.63 394.68 L998.01 391.67 L998.38 389.02 L998.75 386.75 L999.12 384.88 L999.49 383.41 L999.87 382.35 L1000.24 381.71 L1000.61 381.50 L1000.98 381.71 L1001.36 382.35 L1001.73 383.41 L1002.10 384.88 L1002.47 386.75 L1002.84 389.02 L1003.22 391.67 L1003.59 394.68 L1003.96 398.03 L1004.33 401.71 L1004.71 405.69 L1005.08 409.94 L1005.45 414.45 L1005.82 419.17 L1006.19 424.09 L1006.57 429.18 L1006.94 434.39 L1007.31 439.71 L1007.68 445.09 L1008.06 450.50 L1008.43 455.91 L1008.80 461.29 L1009.17 466.61 L1009.54 471.82 L1009.92 476.91 L1010.29 481.83 L1010.66 486.55 L1011.03 491.06 L1011.41 495.31 L1011.78 499.29 L1012.15 502.97 L1012.52 506.32 L1012.89 509.33 L1013.27 511.98 L1013.64 514.25 L1014.01 516.12 L1014.38 517.59 L1014.76 518.65 L1015.13 519.29 L1015.50 519.50 L1015.87 519.29 L1016.24 518.65 L1016.62 517.59 L1016.99 516.12 L1017.36 514.25 L1017.73 511.98 L1018.11 509.33 L1018.48 506.32 L1018.85 502.97 L1019.22 499.29 L1019.59 495.31 L1019.97 491.06 L1020.34 486.55 L1020.71 481.83 L1021.08 476.91 L1021.46 471.82 L1021.83 466.61 L1022.20 461.29 L1022.57 455.91 L1022.94 450.50 L1023.32 445.09 L1023.69 439.71 L1024.06 434.39 L1024.43 429.18 L1024.81 424.09 L1025.18 419.17 L1025.55 414.45 L1025.92 409.94 L1026.29 405.69 L1026.67 401.71 L1027.04 398.03 L1027.41 394.68 L1027.78 391.67 L1028.16 389.02 L1028.53 386.75 L1028.90 384.88 L1029.27 383.41 L1029.64 382.35 L1030.02 381.71 L1030.39 381.50 L1030.76 381.71 L1031.13 382.35 L1031.51 383.41 L1031.88 384.88 L1032.25 386.75 L1032.62 389.02 L1032.99 391.67 L1033.37 394.68 L1033.74 398.03 L1034.11 401.71 L1034.48 405.69 L1034.86 409.94 L1035.23 414.45 L1035.60 419.17 L1035.97 424.09 L1036.34 429.18 L1036.72 434.39 L1037.09 439.71 L1037.46 445.09 L1037.83 450.50 L1038.21 455.91 L1038.58 461.29 L1038.95 466.61 L1039.32 471.82 L1039.69 476.91 L1040.07 481.83 L1040.44 486.55 L1040.81 491.06 L1041.18 495.31 L1041.56 499.29 L1041.93 502.97 L1042.30 506.32 L1042.67 509.33 L1043.04 511.98 L1043.42 514.25 L1043.79 516.12 L1044.16 517.59 L1044.53 518.65 L1044.91 519.29 L1045.28 519.50 L1045.65 519.29 L1046.02 518.65 L1046.39 517.59 L1046.77 516.12 L1047.14 514.25 L1047.51 511.98 L1047.88 509.33 L1048.26 506.32 L1048.63 502.97 L1049.00 499.29 L1049.37 495.31 L1049.74 491.06 L1050.12 486.55 L1050.49 481.83 L1050.86 476.91 L1051.23 471.82 L1051.61 466.61 L1051.98 461.29 L1052.35 455.91 L1052.72 450.50 L1053.09 445.09 L1053.47 439.71 L1053.84 434.39 L1054.21 429.18 L1054.58 424.09 L1054.96 419.17 L1055.33 414.45 L1055.70 409.94 L1056.07 405.69 L1056.44 401.71 L1056.82 398.03 L1057.19 394.68 L1057.56 391.67 L1057.93 389.02 L1058.31 386.75 L1058.68 384.88 L1059.05 383.41 L1059.42 382.35 L1059.79 381.71 L1060.17 381.50 L1060.54 381.71 L1060.91 382.35 L1061.28 383.41 L1061.66 384.88 L1062.03 386.75 L1062.40 389.02 L1062.77 391.67 L1063.14 394.68 L1063.52 398.03 L1063.89 401.71 L1064.26 405.69 L1064.63 409.94 L1065.01 414.45 L1065.38 419.17 L1065.75 424.09 L1066.12 429.18 L1066.49 434.39 L1066.87 439.71 L1067.24 445.09 L1067.61 450.50 L1067.98 455.91 L1068.36 461.29 L1068.73 466.61 L1069.10 471.82 L1069.47 476.91 L1069.84 481.83 L1070.22 486.55 L1070.59 491.06 L1070.96 495.31 L1071.33 499.29 L1071.71 502.97 L1072.08 506.32 L1072.45 509.33 L1072.82 511.98 L1073.19 514.25 L1073.57 516.12 L1073.94 517.59 L1074.31 518.65 L1074.68 519.29 L1075.06 519.50 L1075.43 519.29 L1075.80 518.65 L1076.17 517.59 L1076.54 516.12 L1076.92 514.25 L1077.29 511.98 L1077.66 509.33 L1078.03 506.32 L1078.41 502.97 L1078.78 499.29 L1079.15 495.31 L1079.52 491.06 L1079.89 486.55 L1080.27 481.83 L1080.64 476.91 L1081.01 471.82 L1081.38 466.61 L1081.76 461.29 L1082.13 455.91 L1082.50 450.50 L1082.87 445.09 L1083.24 439.71 L1083.62 434.39 L1083.99 429.18 L1084.36 424.09 L1084.73 419.17 L1085.11 414.45 L1085.48 409.94 L1085.85 405.69 L1086.22 401.71 L1086.59 398.03 L1086.97 394.68 L1087.34 391.67 L1087.71 389.02 L1088.08 386.75 L1088.46 384.88 L1088.83 383.41 L1089.20 382.35 L1089.57 381.71 L1089.94 381.50 L1090.32 381.71 L1090.69 382.35 L1091.06 383.41 L1091.43 384.88 L1091.81 386.75 L1092.18 389.02 L1092.55 391.67 L1092.92 394.68 L1093.29 398.03 L1093.67 401.71 L1094.04 405.69 L1094.41 409.94 L1094.78 414.45 L1095.16 419.17 L1095.53 424.09 L1095.90 429.18 L1096.27 434.39 L1096.64 439.71 L1097.02 445.09 L1097.39 450.50 L1097.76 455.91 L1098.13 461.29 L1098.51 466.61 L1098.88 471.82 L1099.25 476.91 L1099.62 481.83 L1099.99 486.55 L1100.37 491.06 L1100.74 495.31 L1101.11 499.29 L1101.48 502.97 L1101.86 506.32 L1102.23 509.33 L1102.60 511.98 L1102.97 514.25 L1103.34 516.12 L1103.72 517.59 L1104.09 518.65 L1104.46 519.29 L1104.83 519.50 L1105.21 519.29 L1105.58 518.65 L1105.95 517.59 L1106.32 516.12 L1106.69 514.25 L1107.07 511.98 L1107.44 509.33 L1107.81 506.32 L1108.18 502.97 L1108.56 499.29 L1108.93 495.31 L1109.30 491.06 L1109.67 486.55 L1110.04 481.83 L1110.42 476.91 L1110.79 471.82 L1111.16 466.61 L1111.53 461.29 L1111.91 455.91 L1112.28 450.50 L1112.65 445.09 L1113.02 439.71 L1113.39 434.39 L1113.77 429.18 L1114.14 424.09 L1114.51 419.17 L1114.88 414.45 L1115.26 409.94 L1115.63 405.69 L1116.00 401.71 L1116.37 398.03 L1116.74 394.68 L1117.12 391.67 L1117.49 389.02 L1117.86 386.75 L1118.23 384.88 L1118.61 383.41 L1118.98 382.35 L1119.35 381.71 L1119.72 381.50 L1120.09 381.71 L1120.47 382.35 L1120.84 383.41 L1121.21 384.88 L1121.58 386.75 L1121.96 389.02 L1122.33 391.67 L1122.70 394.68 L1123.07 398.03 L1123.44 401.71 L1123.82 405.69 L1124.19 409.94 L1124.56 414.45 L1124.93 419.17 L1125.31 424.09 L1125.68 429.18 L1126.05 434.39 L1126.42 439.71 L1126.79 445.09 L1127.17 450.50 L1127.54 450.50 L1127.91 450.50 L1128.28 450.50 L1128.66 450.50 L1129.03 450.50 L1129.40 450.50 L1129.77 450.50 L1130.14 450.50 L1130.52 450.50 L1130.89 450.50 L1131.26 450.50 L1131.63 450.50 L1132.01 450.50 L1132.38 450.50 L1132.75 450.50 L1133.12 450.50 L1133.49 450.50 L1133.87 450.50 L1134.24 450.50 L1134.61 450.50 L1134.98 450.50 L1135.36 450.50 L1135.73 450.50 L1136.10 450.50 L1136.47 450.50 L1136.84 450.50 L1137.22 450.50 L1137.59 450.50 L1137.96 450.50 L1138.33 450.50 L1138.71 450.50 L1139.08 450.50 L1139.45 450.50 L1139.82 450.50 L1140.19 450.50 L1140.57 450.50 L1140.94 450.50 L1141.31 450.50 L1141.68 450.50 L1142.06 450.50 L1142.43 450.50 L1142.80 450.50 L1143.17 450.50 L1143.54 450.50 L1143.92 450.50 L1144.29 450.50 L1144.66 450.50 L1145.03 450.50 L1145.41 450.50 L1145.78 450.50 L1146.15 450.50 L1146.52 450.50 L1146.89 450.50 L1147.27 450.50 L1147.64 450.50 L1148.01 450.50 L1148.38 450.50 L1148.76 450.50 L1149.13 450.50 L1149.50 450.50 L1149.87 450.50 L1150.24 450.50 L1150.62 450.50 L1150.99 450.50 L1151.36 450.50 L1151.73 450.50 L1152.11 450.50 L1152.48 450.50 L1152.85 450.50 L1153.22 450.50 L1153.59 450.50 L1153.97 450.50 L1154.34 450.50 L1154.71 450.50 L1155.08 450.50 L1155.46 450.50 L1155.83 450.50 L1156.20 450.50 L1156.57 450.50 L1156.94 450.50 L1157.32 450.50 L1157.69 450.50 L1158.06 450.50 L1158.43 450.50 L1158.81 450.50 L1159.18 450.50 L1159.55 450.50 L1159.92 450.50 L1160.29 450.50 L1160.67 450.50 L1161.04 450.50 L1161.41 450.50 L1161.78 450.50 L1162.16 450.50 L1162.53 450.50 L1162.90 450.50 L1163.27 450.50 L1163.64 450.50 L1164.02 450.50 L1164.39 450.50 L1164.76 450.50 L1165.13 450.50 L1165.51 450.50 L1165.88 450.50 L1166.25 450.50 L1166.62 450.50 L1166.99 450.50 L1167.37 450.50 L1167.74 450.50 L1168.11 450.50 L1168.48 450.50 L1168.86 450.50 L1169.23 450.50 L1169.60 450.50 L1169.97 450.50 L1170.34 450.50 L1170.72 450.50 L1171.09 450.50 L1171.46 450.50 L1171.83 450.50 L1172.21 450.50 L1172.58 450.50 L1172.95 450.50 L1173.32 450.50 L1173.69 450.50 L1174.07 450.50 L1174.44 450.50 L1174.81 450.50 L1175.18 450.50 L1175.56 450.50 L1175.93 450.50 L1176.30 450.50 L1176.67 450.50 L1177.04 450.50 L1177.42 450.50 L1177.79 450.50 L1178.16 450.50 L1178.53 450.50 L1178.91 450.50 L1179.28 450.50 L1179.65 450.50 L1180.02 450.50 L1180.39 450.50 L1180.77 450.50 L1181.14 450.50 L1181.51 450.50 L1181.88 450.50 L1182.26 450.50 L1182.63 450.50 L1183.00 450.50 L1183.37 450.50 L1183.74 450.50 L1184.12 450.50 L1184.49 450.50 L1184.86 450.50 L1185.23 450.50 L1185.61 450.50 L1185.98 450.50 L1186.35 450.50 L1186.72 450.50 L1187.09 450.50 L1187.47 450.50 L1187.84 450.50 L1188.21 450.50 L1188.58 450.50 L1188.96 450.50 L1189.33 450.50 L1189.70 450.50 L1190.07 450.50 L1190.44 450.50 L1190.82 450.50 L1191.19 450.50 L1191.56 450.50 L1191.93 450.50 L1192.31 450.50 L1192.68 450.50 L1193.05 450.50 L1193.42 450.50 L1193.79 450.50 L1194.17 450.50 L1194.54 450.50 L1194.91 450.50 L1195.28 450.50 L1195.66 450.50 L1196.03 450.50 L1196.40 450.50 L1196.77 450.50 L1197.14 450.50 L1197.52 450.50 L1197.89 450.50 L1198.26 450.50 L1198.63 450.50 L1199.01 450.50 L1199.38 450.50 L1199.75 450.50 L1200.12 450.50 L1200.49 450.50 L1200.87 450.50 L1201.24 450.50 L1201.61 450.50 L1201.98 450.50 L1202.36 450.50 L1202.73 450.50 L1203.10 450.50 L1203.47 450.50 L1203.84 450.50 L1204.22 450.50 L1204.59 450.50 L1204.96 450.50 L1205.33 450.50 L1205.71 450.50 L1206.08 450.50 L1206.45 450.50 L1206.82 450.50 L1207.19 450.50 L1207.57 450.50 L1207.94 450.50 L1208.31 450.50 L1208.68 450.50 L1209.06 450.50 L1209.43 450.50 L1209.80 450.50 L1210.17 450.50 L1210.54 450.50 L1210.92 450.50 L1211.29 450.50 L1211.66 450.50 L1212.03 450.50 L1212.41 450.50 L1212.78 450.50 L1213.15 450.50 L1213.52 450.50 L1213.89 450.50 L1214.27 450.50 L1214.64 450.50 L1215.01 450.50 L1215.38 450.50 L1215.76 450.50 L1216.13 450.50 L1216.50 450.50" stroke="#ff0000" stroke-width="3.4" fill="none" stroke-linejoin="round"/><text x="677.5" y="361.5" text-anchor="end" fill="#0000ff" font-size="9.2" letter-spacing="0.7">2.000</text><text x="677.5" y="384.5" text-anchor="end" fill="#0000ff" font-size="9.2" letter-spacing="0.7">1.500</text><text x="677.5" y="407.5" text-anchor="end" fill="#0000ff" font-size="9.2" letter-spacing="0.7">1.000</text><text x="677.5" y="430.5" text-anchor="end" fill="#0000ff" font-size="9.2" letter-spacing="0.7">0.500</text><text x="677.5" y="453.5" text-anchor="end" fill="#0000ff" font-size="9.2" letter-spacing="0.7">0.000</text><text x="677.5" y="476.5" text-anchor="end" fill="#0000ff" font-size="9.2" letter-spacing="0.7">-0.500</text><text x="677.5" y="499.5" text-anchor="end" fill="#0000ff" font-size="9.2" letter-spacing="0.7">-1.000</text><text x="677.5" y="522.5" text-anchor="end" fill="#0000ff" font-size="9.2" letter-spacing="0.7">-1.500</text><text x="677.5" y="545.5" text-anchor="end" fill="#0000ff" font-size="9.2" letter-spacing="0.7">-2.000</text><text x="680" y="553" fill="#0000ff" font-size="9.2" letter-spacing="0.85">0.000m</text><text x="787.4000000000001" y="553" text-anchor="middle" fill="#0000ff" font-size="9.2" letter-spacing="0.85">72.000m</text><text x="894.6" y="553" text-anchor="middle" fill="#0000ff" font-size="9.2" letter-spacing="0.85">144.000m</text><text x="1001.8000000000001" y="553" text-anchor="middle" fill="#0000ff" font-size="9.2" letter-spacing="0.85">216.000m</text><text x="1109.0" y="553" text-anchor="middle" fill="#0000ff" font-size="9.2" letter-spacing="0.85">288.000m</text><text x="1216.2" y="553" text-anchor="middle" fill="#0000ff" font-size="9.2" letter-spacing="0.85">360.000m</text><text x="680" y="566.5" fill="#ff0000" font-size="10" text-decoration="underline">v(OUT) (V)</text><text x="878" y="579.5" fill="#0000ff" font-size="10">T (Secs)</text></g></svg>
<svg style="position:absolute;left:0;top:0" width="1253" height="120"><defs><pattern id="chk" width="2" height="2" patternUnits="userSpaceOnUse"><rect width="2" height="2" fill="#f7f7f7"/><rect width="1" height="1" fill="#ffffff"/><rect x="1" y="1" width="1" height="1" fill="#ffffff"/></pattern></defs><rect x="11" y="33" width="23" height="21" fill="url(#chk)"/><path d="M11.5 54 L11.5 33.5 L34 33.5" stroke="#c8c8c8" fill="none"/><path d="M12 53.5 L33.5 53.5 L33.5 34" stroke="#ffffff" fill="none"/><g transform="translate(18,37)"><path d="M1 1 L1 13 L4 10 L6.5 15 L8.5 14 L6 9 L10 9 Z" fill="#000"/></g><g transform="translate(37,35)"><path d="M0.5 9.5 L3.5 6.5 L7.5 10.5 L11 6.5 L15.5 10.5" stroke="#000" fill="none" stroke-width="1"/></g><g transform="translate(60,35)"><path d="M1 2 L15 2 L15 5 L13.5 5 L13 3.8 L9.5 3.8 L9.5 13.5 L11 13.5 L11 15 L5 15 L5 13.5 L6.5 13.5 L6.5 3.8 L3 3.8 L2.5 5 L1 5 Z" fill="#000"/></g><g transform="translate(83,35)"><rect x="1" y="1.5" width="3" height="3" fill="#000"/><path d="M3 3 L8.5 3 L8.5 12.5 L16 12.5" stroke="#000" fill="none" stroke-width="1.3"/></g><g transform="translate(106,35)"><rect x="1" y="1" width="3" height="3" fill="#000"/><path d="M2.5 2.5 L15 15" stroke="#000" stroke-width="1.3"/></g><g transform="translate(130,35)"><rect x="1" y="1" width="14" height="13" rx="2" fill="#ffff00" stroke="#000" stroke-width="1.2"/><rect x="3.5" y="3.5" width="9" height="4" fill="#ffff00" stroke="#000" stroke-width=".8"/><path d="M4 11 L12 11" stroke="#000"/><rect x="1.5" y="14" width="3" height="2" fill="#000"/><rect x="11.5" y="14" width="3" height="2" fill="#000"/></g><g transform="translate(152,35)"><path d="M1 8 L7 1.5" stroke="#000"/><rect x="9.5" y="1.5" width="6" height="5" fill="#fff" stroke="#000"/><path d="M4 9 L7 12 L4 15 L1 12 Z" fill="#fff" stroke="#000"/><circle cx="12.5" cy="12.5" r="3" fill="#fff" stroke="#000"/></g><g transform="translate(190,35)"><path d="M1.5 15 L1.5 1.5 L14.5 1.5 L14.5 9.5 L1.5 9.5" stroke="#000" fill="#fff" stroke-width="1.2"/></g><g transform="translate(215,35)"><circle cx="4.5" cy="2.5" r="2" fill="#000"/><path d="M1.5 6 L6 6 L6 13.5 L8 13.5 L8 15 L0.5 15 L0.5 13.5 L2.5 13.5 L2.5 7.5 L1.5 7.5Z" fill="#000"/></g><g transform="translate(237,35)"><path d="M1 1 L1 12 L3.5 9.5 L5.5 14 L7 13.3 L5 9 L8.5 9 Z" fill="#000"/><text x="7" y="11" font-size="13" font-weight="bold" fill="#1a237e" font-family="Liberation Serif">?</text></g><g transform="translate(260,35)"><circle cx="6" cy="6" r="5.5" fill="#2a5ac8"/><path d="M3 3 L7 2 L8 6 L4 8Z" fill="#30a030"/><rect x="6" y="7" width="8" height="8.5" fill="#fff" stroke="#000"/><path d="M7.5 10 L12.5 10 M7.5 12 L12.5 12 M7.5 14 L12.5 14" stroke="#223399"/><path d="M10 3 Q14 1 15 5" stroke="#a02020" fill="none" stroke-width="1.3"/></g><g transform="translate(282,35)"><rect x="0.5" y="0.5" width="15" height="15" fill="#fff" stroke="#000" stroke-width="1.2"/><circle cx="5.5" cy="5.5" r="4" fill="#108010"/><circle cx="10.5" cy="10.5" r="4" fill="#ff1a1a"/><path d="M9 9 L12 12 M12 9 L9 12" stroke="#fff"/><path d="M5.5 3 L5.5 6" stroke="#fff" stroke-width="1.2"/></g><g transform="translate(176,42)"><path d="M0 0 L7 0 L3.5 4 Z" fill="#000"/></g><path d="M304.5 34 L304.5 53" stroke="#a0a0a0"/><path d="M305.5 34 L305.5 53" stroke="#fff"/><rect x="307" y="33" width="23" height="21" fill="url(#chk)"/><path d="M307.5 54 L307.5 33.5 L330 33.5" stroke="#c8c8c8" fill="none"/><path d="M308 53.5 L329.5 53.5 L329.5 34" stroke="#ffffff" fill="none"/><rect x="330" y="33" width="23" height="21" fill="url(#chk)"/><path d="M330.5 54 L330.5 33.5 L353 33.5" stroke="#c8c8c8" fill="none"/><path d="M331 53.5 L352.5 53.5 L352.5 34" stroke="#ffffff" fill="none"/><g transform="translate(309,35)"><text x="0" y="11" font-size="8" font-weight="bold" font-family="Liberation Mono" fill="#000" letter-spacing="-.3">TEXT</text></g><g transform="translate(334,35)"><text x="5" y="7" font-size="7" font-weight="bold" font-family="Liberation Mono" fill="#000">R1</text><path d="M1 13 L4 10 L7 13 L10 10 L13 13 L15.5 11" stroke="#000" fill="none"/></g><g transform="translate(356,36)"><rect x="1.5" y="1.5" width="9" height="9" fill="#fff" stroke="#000"/><text x="3.5" y="9" font-size="8" font-weight="bold" fill="#000" font-family="Liberation Mono">1</text><path d="M5.5 10 L5.5 15 M10 6 L12 9 L15 6" stroke="#000" fill="none"/></g><g transform="translate(379,36)"><text x="1" y="7" font-size="6.5" font-family="Liberation Mono" fill="#a8a8a8">VIP</text><path d="M2 9 L6 14 L14 4" stroke="#a8a8a8" fill="none" stroke-width="1.6"/></g><g transform="translate(417,36)"><rect x="1.5" y="1.5" width="10" height="9" fill="#fff" stroke="#901010"/><text x="2" y="9" font-size="7.5" font-weight="bold" fill="#000" font-family="Liberation Mono" letter-spacing="-1">13</text><path d="M6.5 10 L6.5 15 M11 9 L15 5" stroke="#000" fill="none"/></g><g transform="translate(441,36)"><path d="M1 3.5 L14 3.5" stroke="#0000ff" stroke-width="1.3"/><path d="M11 1 L15 3.5 L11 6Z" fill="#0000ff"/><path d="M0 10.5 L15 10.5" stroke="#000"/><path d="M5 8 L8.5 10.5 L5 13Z" fill="#000"/><path d="M9 8 L9 13" stroke="#000" stroke-width="1.3"/></g><g transform="translate(463,36)"><path d="M1 1 L5 3" stroke="#909090" stroke-width="1.5"/><ellipse cx="7" cy="6" rx="2.5" ry="3.5" fill="#ffff00"/><path d="M7 4 L8.5 6.5 L7 8.5 L5.5 6.5Z" fill="#ff0000"/><path d="M0 10.5 L15 10.5" stroke="#000"/><path d="M5 8 L8.5 10.5 L5 13Z" fill="#000"/><path d="M9 8 L9 13" stroke="#000" stroke-width="1.3"/></g><g transform="translate(487,36)"><text x="1" y="7" font-size="8" font-family="Liberation Mono" fill="#0000ff" letter-spacing="-.5">ON</text><path d="M0 10.5 L15 10.5" stroke="#000"/><path d="M5 8 L8.5 10.5 L5 13Z" fill="#000"/><path d="M9 8 L9 13" stroke="#000" stroke-width="1.3"/></g><g transform="translate(509,36)"><rect x="0" y="6" width="3" height="3" fill="#000"/><rect x="13" y="6" width="3" height="3" fill="#000"/><path d="M2 7.5 L14 7.5" stroke="#000" stroke-width="1.3"/></g><g transform="translate(531,36)"><rect x="1" y="2" width="1" height="1" fill="#000"/><rect x="1" y="6" width="1" height="1" fill="#000"/><rect x="1" y="10" width="1" height="1" fill="#000"/><rect x="1" y="14" width="1" height="1" fill="#000"/><rect x="4" y="2" width="1" height="1" fill="#000"/><rect x="4" y="6" width="1" height="1" fill="#000"/><rect x="4" y="10" width="1" height="1" fill="#000"/><rect x="4" y="14" width="1" height="1" fill="#000"/><rect x="7" y="2" width="1" height="1" fill="#000"/><rect x="7" y="6" width="1" height="1" fill="#000"/><rect x="7" y="10" width="1" height="1" fill="#000"/><rect x="7" y="14" width="1" height="1" fill="#000"/><rect x="10" y="2" width="1" height="1" fill="#000"/><rect x="10" y="6" width="1" height="1" fill="#000"/><rect x="10" y="10" width="1" height="1" fill="#000"/><rect x="10" y="14" width="1" height="1" fill="#000"/><rect x="13" y="2" width="1" height="1" fill="#000"/><rect x="13" y="6" width="1" height="1" fill="#000"/><rect x="13" y="10" width="1" height="1" fill="#000"/><rect x="13" y="14" width="1" height="1" fill="#000"/><rect x="16" y="2" width="1" height="1" fill="#000"/><rect x="16" y="6" width="1" height="1" fill="#000"/><rect x="16" y="10" width="1" height="1" fill="#000"/><rect x="16" y="14" width="1" height="1" fill="#000"/></g><g transform="translate(570,36)"><rect x="0.5" y="0.5" width="15" height="14" fill="#fff" stroke="#000" stroke-width="1.3"/><path d="M8 15 L8 9.5 L15.5 9.5 M8 12.5 L15.5 12.5" stroke="#000" fill="none" stroke-width="1.3"/></g><g transform="translate(596,36)"><path d="M1 1.5 L4 1.5 L4 4 L7 6 L4 8 L7 10 L4 12 L4 14.5 L1 14.5" stroke="#000" fill="none" stroke-width="1.2"/><path d="M6 6 L6 14 L8 12 L10 15.5 L11.5 15 L9.5 11.5 L12 11.5Z" fill="#000"/></g><g transform="translate(404,43)"><path d="M0 0 L7 0 L3.5 4 Z" fill="#909090"/></g><g transform="translate(556,43)"><path d="M0 0 L7 0 L3.5 4 Z" fill="#000"/></g><path d="M615.5 34 L615.5 53" stroke="#a0a0a0"/><path d="M616.5 34 L616.5 53" stroke="#fff"/><path d="M13 56.5 L623 56.5" stroke="#a0a0a0"/><path d="M13 57.5 L623 57.5" stroke="#fff"/><g transform="translate(14,62)"><rect x="1" y="6" width="11" height="10" fill="#fff" stroke="#000" stroke-width="1.4"/><path d="M3 10.5 L10 10.5 M3 13 L10 13" stroke="#000"/><path d="M3 6 L7 2 L11 6" stroke="#000" fill="#fff" stroke-width="1.2"/><path d="M5 5 L7 3 L9 5 L7 7Z" fill="#000"/><path d="M9 3 Q12 0 14 2 L14 6 Q12 4 10 6" stroke="#000" fill="#fff"/><rect x="14" y="1" width="2" height="6" fill="#000080"/></g><g transform="translate(42,62)"><rect x="2.5" y="2.5" width="11" height="11" fill="none" stroke="#a8a8a8" stroke-width="1.2"/><rect x="5.5" y="5.5" width="6" height="6" fill="none" stroke="#a8a8a8" stroke-width="1.2"/><rect x="1" y="1" width="3" height="3" fill="#a0a0a0"/><rect x="12" y="1" width="3" height="3" fill="#a0a0a0"/><rect x="1" y="12" width="3" height="3" fill="#a0a0a0"/><rect x="12" y="12" width="3" height="3" fill="#a0a0a0"/><rect x="4" y="4" width="3" height="3" fill="#a0a0a0"/><rect x="10" y="10" width="3" height="3" fill="#a0a0a0"/></g><g transform="translate(65,62)"><path d="M0 8.5 L16 8.5" stroke="#a0a0a0" stroke-width="1.2"/><path d="M2 5 L7 8.5 L2 12Z M14 5 L9 8.5 L14 12Z" fill="#a0a0a0"/></g><g transform="translate(88,62)"><path d="M5 3 A6 6 0 1 1 3 11" stroke="#a8a8a8" fill="none" stroke-width="1.2"/><path d="M2 1 L6 3 L3 6Z" fill="#a8a8a8"/><rect x="8" y="8" width="1.5" height="1.5" fill="#a8a8a8"/></g><g transform="translate(112,62)"><path d="M8 0 L8 16 M12 4 Q4 2 3 8 Q4 14 12 12" stroke="#a8a8a8" fill="none" stroke-width="1.2"/><path d="M10 1.5 L14 4 L10 6.5Z" fill="#a8a8a8"/></g><g transform="translate(134,62)"><path d="M0 7 L16 7 M4 2 Q4 14 8 13 Q12 12 12 2" stroke="#a8a8a8" fill="none" stroke-width="1.2"/><path d="M2 4 L4 0 L6 4Z" fill="#a8a8a8"/></g><g transform="translate(162,62)"><path d="M1 9 L1 4 L3 1 L5 4 L5 9Z M8 9 L8 4 L10 1 L12 4 L12 9Z" fill="#000"/><rect x="4" y="4" width="5" height="3" fill="#000"/><path d="M2 14 L4 12 L6 14 L8 12 L10 14 L12 12 L14 14" stroke="#0000cc" fill="none"/></g><g transform="translate(185,62)"><path d="M1 15 L1 7 L3 2 L6 2 L6 15Z M10 15 L10 2 L13 2 L15 7 L15 15Z" fill="#000"/><rect x="5" y="6" width="6" height="4" fill="#000"/><rect x="2" y="11" width="2" height="3" fill="#fff"/><rect x="12" y="11" width="2" height="3" fill="#fff"/></g><g transform="translate(213,62)"><rect x="1" y="1" width="14" height="11" fill="none" stroke="#a8a8a8" stroke-width="1.5"/><path d="M4 4 L12 4 M4 6.5 L12 6.5 M4 9 L12 9 M8 12 L8 14 M4 16 L8 14 L12 16" stroke="#a8a8a8" fill="none"/></g><g transform="translate(242,62)"><path d="M5 0.5 L11 0.5 L15.5 5 L15.5 11 L11 15.5 L5 15.5 L0.5 11 L0.5 5Z" fill="#a0a0a0"/><path d="M8 3 L8 9.5" stroke="#f0f0f0" stroke-width="2.2"/><rect x="7" y="11.5" width="2" height="2" fill="#f0f0f0"/></g><g transform="translate(265,62)"><path d="M5 0.5 L11 0.5 L15.5 5 L15.5 11 L11 15.5 L5 15.5 L0.5 11 L0.5 5Z" fill="#a0a0a0"/><path d="M5 5 L11 11 M11 5 L5 11" stroke="#f0f0f0" stroke-width="1.8"/></g><g transform="translate(292,62)"><rect x="1" y="1" width="9" height="8" fill="#a8a8a8"/><rect x="6" y="6" width="9" height="9" fill="#b8b8b8"/><rect x="6" y="6" width="4" height="3" fill="#d0d0d0"/></g><g transform="translate(315,62)"><rect x="1" y="1" width="9" height="8" fill="#a8a8a8"/><rect x="6" y="6" width="9" height="9" fill="#b8b8b8"/><rect x="6" y="6" width="4" height="3" fill="#d0d0d0"/></g><g transform="translate(343,62)"><circle cx="6.5" cy="6.5" r="5.3" fill="#fff" stroke="#000" stroke-width="1.6"/><path d="M3.5 6.5 L9.5 6.5 M6.5 3.5 L6.5 9.5" stroke="#000" stroke-width="2"/><path d="M10.5 10.5 L15 15" stroke="#000" stroke-width="2.4"/><path d="M3 4 L4 3" stroke="#00e0e0"/></g><g transform="translate(366,62)"><circle cx="6.5" cy="6.5" r="5.3" fill="#fff" stroke="#000" stroke-width="1.6"/><path d="M3.5 6.5 L9.5 6.5" stroke="#000" stroke-width="2"/><path d="M10.5 10.5 L15 15" stroke="#000" stroke-width="2.4"/><path d="M3 4 L4 3 M8 10 L10 8" stroke="#00e0e0"/></g><g transform="translate(394,62)"><path d="M1 4 L6 4 L7 2 L11 2 L12 4 L15 4 L15 15 L1 15Z" fill="#b0b0b0"/><rect x="3" y="6" width="10" height="7" fill="#c8c8c8"/></g><g transform="translate(422,62)"><circle cx="7.5" cy="8" r="6.5" fill="#c0c0c0"/><path d="M2 8 L13 8 M7.5 2 L7.5 14 M4 4 Q7.5 8 4 12 M11 4 Q7.5 8 11 12" stroke="#f0f0f0" fill="none"/></g><g transform="translate(446,62)"><text x="0" y="14" font-size="17" font-weight="bold" font-family="Liberation Serif" fill="#a8a8a8">F</text></g><path d="M36.5 60 L36.5 80" stroke="#a0a0a0"/><path d="M37.5 60 L37.5 80" stroke="#fff"/><path d="M156.5 60 L156.5 80" stroke="#a0a0a0"/><path d="M157.5 60 L157.5 80" stroke="#fff"/><path d="M207.5 60 L207.5 80" stroke="#a0a0a0"/><path d="M208.5 60 L208.5 80" stroke="#fff"/><path d="M235.5 60 L235.5 80" stroke="#a0a0a0"/><path d="M236.5 60 L236.5 80" stroke="#fff"/><path d="M286.5 60 L286.5 80" stroke="#a0a0a0"/><path d="M287.5 60 L287.5 80" stroke="#fff"/><path d="M337.5 60 L337.5 80" stroke="#a0a0a0"/><path d="M338.5 60 L338.5 80" stroke="#fff"/><path d="M388.5 60 L388.5 80" stroke="#a0a0a0"/><path d="M389.5 60 L389.5 80" stroke="#fff"/><path d="M416.5 60 L416.5 80" stroke="#a0a0a0"/><path d="M417.5 60 L417.5 80" stroke="#fff"/><rect x="705" y="33" width="23" height="21" fill="url(#chk)"/><path d="M705.5 54 L705.5 33.5 L728 33.5" stroke="#c8c8c8" fill="none"/><path d="M706 53.5 L727.5 53.5 L727.5 34" stroke="#ffffff" fill="none"/><g transform="translate(650,35)"><path d="M1 1 L1 13 L4 10 L6.5 15 L8.5 14 L6 9 L10 9 Z" fill="#000"/></g><g transform="translate(670,35)"><path d="M1 8 L7 1.5" stroke="#000"/><rect x="9.5" y="1.5" width="6" height="5" fill="#fff" stroke="#000"/><path d="M4 9 L7 12 L4 15 L1 12 Z" fill="#fff" stroke="#000"/><circle cx="12.5" cy="12.5" r="3" fill="#fff" stroke="#000"/></g><g transform="translate(709,35)"><rect x="1.5" y="2.5" width="12" height="9" fill="none" stroke="#000" stroke-dasharray="1 1"/><path d="M1 13 Q4 15 7 10 Q10 4 15 6" stroke="#0000ff" fill="none" stroke-width="1.3"/></g><g transform="translate(731,35)"><path d="M1 7 Q4 -1 7 7 Q10 14 13 3 L15 7" stroke="#0000ff" fill="none" stroke-width="1.2"/><path d="M2 5 L2 9 M8 1 L8 9" stroke="#000" stroke-dasharray="1 1"/><path d="M0 11.5 L16 11.5 M1 14.5 L6 14.5 M9 14.5 L15 14.5" stroke="#000" stroke-width="1.2"/></g><g transform="translate(754,35)"><path d="M1 2.5 L15 2.5" stroke="#0000ff" stroke-width="1.2"/><path d="M1.5 1 L1.5 6 M14.5 1 L14.5 6" stroke="#000"/><path d="M3.5 6 L3.5 13 M12.5 6 L12.5 13" stroke="#000" stroke-dasharray="1 1"/><path d="M2 13.5 L14 13.5" stroke="#000"/><path d="M2 11.5 L2 15.5 M14 11.5 L14 15.5" stroke="#000"/><rect x="6.5" y="11.5" width="3" height="4" fill="none" stroke="#000"/></g><g transform="translate(777,35)"><path d="M1 1.5 L5 1.5 M3 1 L3 15 M1 14.5 L5 14.5" stroke="#000"/><path d="M5 3 L5 13" stroke="#000" stroke-dasharray="1 1"/><path d="M7 14 Q10 13 11 8 Q12 3 15 2" stroke="#0000ff" fill="none" stroke-width="1.2"/><rect x="1" y="6" width="3" height="4" fill="#000"/></g><g transform="translate(800,35)"><path d="M0 14 L7 14 L7 9 L15 9" stroke="#0000ff" fill="none" stroke-width="1.2"/><path d="M4 12 L11 5" stroke="#000"/><text x="8" y="5" font-size="6" fill="#000" font-family="Liberation Mono">1.0</text></g><g transform="translate(823,35)"><text x="2" y="5" font-size="6.5" font-family="Liberation Mono" fill="#a00000" font-weight="bold">F()</text><path d="M1 15 Q3 6 8 6 Q13 6 15 15" stroke="#0000ff" fill="none" stroke-width="1.2"/><path d="M3 8 L3 15 M13 8 L13 15" stroke="#000"/></g><g transform="translate(846,35)"><path d="M1 2 L15 2 L15 5 L13.5 5 L13 3.8 L9.5 3.8 L9.5 13.5 L11 13.5 L11 15 L5 15 L5 13.5 L6.5 13.5 L6.5 3.8 L3 3.8 L2.5 5 L1 5 Z" fill="#000"/></g><g transform="translate(873,35)"><rect x="1" y="6" width="11" height="10" fill="#fff" stroke="#000" stroke-width="1.4"/><path d="M3 10.5 L10 10.5 M3 13 L10 13" stroke="#000"/><path d="M3 6 L7 2 L11 6" stroke="#000" fill="#fff" stroke-width="1.2"/><path d="M5 5 L7 3 L9 5 L7 7Z" fill="#000"/><path d="M9 3 Q12 0 14 2 L14 6 Q12 4 10 6" stroke="#000" fill="#fff"/><rect x="14" y="1" width="2" height="6" fill="#000080"/></g><g transform="translate(903,35)"><path d="M2 2 L14 8 L2 14Z" fill="#000"/></g><g transform="translate(926,35)"><rect x="1" y="2" width="12" height="12" fill="#a0a0a0"/></g><g transform="translate(950,35)"><rect x="2" y="2" width="4" height="12" fill="#a0a0a0"/><rect x="9" y="2" width="4" height="12" fill="#a0a0a0"/></g><g transform="translate(975,35)"><path d="M1 15 L11 4 L16 4" stroke="#000" fill="none" stroke-width="1.2"/></g><g transform="translate(998,35)"><path d="M2 14 L14 2" stroke="#000"/><rect x="0" y="12" width="3" height="3" fill="#fff" stroke="#000" stroke-width=".8"/><rect x="6.5" y="6.5" width="3" height="3" fill="#fff" stroke="#000" stroke-width=".8"/><rect x="13" y="0" width="3" height="3" fill="#fff" stroke="#000" stroke-width=".8"/></g><g transform="translate(1027,35)"><rect x="0.5" y="0.5" width="15" height="15" fill="none" stroke="#000" stroke-width="1.3"/><rect x="2.5" y="2.5" width="1" height="1"/><rect x="2.5" y="12.5" width="1" height="1"/><rect x="4.5" y="2.5" width="1" height="1"/><rect x="4.5" y="12.5" width="1" height="1"/><rect x="6.5" y="2.5" width="1" height="1"/><rect x="6.5" y="12.5" width="1" height="1"/><rect x="8.5" y="2.5" width="1" height="1"/><rect x="8.5" y="12.5" width="1" height="1"/><rect x="10.5" y="2.5" width="1" height="1"/><rect x="10.5" y="12.5" width="1" height="1"/><rect x="12.5" y="2.5" width="1" height="1"/><rect x="12.5" y="12.5" width="1" height="1"/><rect x="2.5" y="2.5" width="1" height="1"/><rect x="12.5" y="2.5" width="1" height="1"/><rect x="2.5" y="4.5" width="1" height="1"/><rect x="12.5" y="4.5" width="1" height="1"/><rect x="2.5" y="6.5" width="1" height="1"/><rect x="12.5" y="6.5" width="1" height="1"/><rect x="2.5" y="8.5" width="1" height="1"/><rect x="12.5" y="8.5" width="1" height="1"/><rect x="2.5" y="10.5" width="1" height="1"/><rect x="12.5" y="10.5" width="1" height="1"/><rect x="2.5" y="12.5" width="1" height="1"/><rect x="12.5" y="12.5" width="1" height="1"/></g><g transform="translate(1050,35)"><rect x="0.5" y="0.5" width="15" height="15" fill="none" stroke="#000" stroke-width="1.3"/><path d="M5.5 1 L5.5 15 M10.5 1 L10.5 15 M1 5.5 L15 5.5 M1 10.5 L15 10.5" stroke="#000" stroke-dasharray="1 1"/></g><g transform="translate(694,43)"><path d="M0 0 L7 0 L3.5 4 Z" fill="#000"/></g><path d="M868.5 34 L868.5 53" stroke="#a0a0a0"/><path d="M869.5 34 L869.5 53" stroke="#fff"/><path d="M896.5 34 L896.5 53" stroke="#a0a0a0"/><path d="M897.5 34 L897.5 53" stroke="#fff"/><path d="M970.5 34 L970.5 53" stroke="#a0a0a0"/><path d="M971.5 34 L971.5 53" stroke="#fff"/><path d="M1021.5 34 L1021.5 53" stroke="#a0a0a0"/><path d="M1022.5 34 L1022.5 53" stroke="#fff"/><path d="M1072.5 34 L1072.5 53" stroke="#a0a0a0"/><path d="M1073.5 34 L1073.5 53" stroke="#fff"/><path d="M1169.5 34 L1169.5 53" stroke="#a0a0a0"/><path d="M1170.5 34 L1170.5 53" stroke="#fff"/><path d="M1220.5 34 L1220.5 53" stroke="#a0a0a0"/><path d="M1221.5 34 L1221.5 53" stroke="#fff"/><rect x="1075" y="33" width="23" height="21" fill="url(#chk)"/><path d="M1075.5 54 L1075.5 33.5 L1098 33.5" stroke="#c8c8c8" fill="none"/><path d="M1076 53.5 L1097.5 53.5 L1097.5 34" stroke="#ffffff" fill="none"/><rect x="1098" y="33" width="23" height="21" fill="url(#chk)"/><path d="M1098.5 54 L1098.5 33.5 L1121 33.5" stroke="#c8c8c8" fill="none"/><path d="M1099 53.5 L1120.5 53.5 L1120.5 34" stroke="#ffffff" fill="none"/><rect x="1121" y="33" width="23" height="21" fill="url(#chk)"/><path d="M1121.5 54 L1121.5 33.5 L1144 33.5" stroke="#c8c8c8" fill="none"/><path d="M1122 53.5 L1143.5 53.5 L1143.5 34" stroke="#ffffff" fill="none"/><rect x="1171" y="33" width="23" height="21" fill="url(#chk)"/><path d="M1171.5 54 L1171.5 33.5 L1194 33.5" stroke="#c8c8c8" fill="none"/><path d="M1172 53.5 L1193.5 53.5 L1193.5 34" stroke="#ffffff" fill="none"/><g transform="translate(1079,35)"><rect x="0.5" y="0.5" width="15" height="15" fill="none" stroke="#000" stroke-width="1.3"/><path d="M3.5 1 L3.5 15 M6.5 1 L6.5 15 M9.5 1 L9.5 15 M12.5 1 L12.5 15" stroke="#000"/></g><g transform="translate(1102,35)"><rect x="0.5" y="0.5" width="15" height="15" fill="none" stroke="#000" stroke-width="1.3"/><path d="M1 3.5 L15 3.5 M1 6.5 L15 6.5 M1 9.5 L15 9.5 M1 12.5 L15 12.5" stroke="#000"/></g><g transform="translate(1125,35)"><rect x="0.5" y="0.5" width="15" height="15" fill="none" stroke="#000" stroke-width="1.3"/><path d="M5.5 1 L5.5 15 M10.5 1 L10.5 15" stroke="#000" stroke-dasharray="1 1"/></g><g transform="translate(1147,35)"><rect x="0.5" y="0.5" width="15" height="15" fill="none" stroke="#000" stroke-width="1.3"/><path d="M5.5 1 L5.5 15 M10.5 1 L10.5 15" stroke="#000" stroke-dasharray="1 1"/></g><g transform="translate(1175,35)"><rect x="0.5" y="0.5" width="15" height="15" fill="none" stroke="#000" stroke-width="1.3"/><path d="M1 11.5 L15 11.5" stroke="#000" stroke-width="1.3"/></g><g transform="translate(1199,35)"><path d="M1 14 L15 4" stroke="#0000ff" stroke-width="1.2"/><path d="M8 1 L8 16" stroke="#000" stroke-dasharray="1 1"/><path d="M1 9 L15 9" stroke="#000" stroke-dasharray="1 1"/></g><path d="M646 56.5 L1240 56.5" stroke="#a0a0a0"/><path d="M646 57.5 L1240 57.5" stroke="#fff"/><rect x="769" y="59" width="23" height="21" fill="url(#chk)"/><path d="M769.5 80 L769.5 59.5 L792 59.5" stroke="#c8c8c8" fill="none"/><path d="M770 79.5 L791.5 79.5 L791.5 60" stroke="#ffffff" fill="none"/><g transform="translate(648,61)"><path d="M1 15 Q5 12 8 7 Q11 2 15 1" stroke="#0000ff" fill="none" stroke-width="1.2"/><path d="M9.5 0 L9.5 16" stroke="#000" stroke-dasharray="1 1"/><path d="M0 7.5 L8 7.5" stroke="#000" stroke-width="1.3"/><path d="M5 4 L8.5 7.5 L5 11Z" fill="#000"/></g><g transform="translate(670,61)"><path d="M0 13 Q8 12 15 6" stroke="#0000ff" fill="none" stroke-width="1.2"/><path d="M8.5 0 L8.5 16" stroke="#000" stroke-dasharray="1 1"/><path d="M8.5 1 L8.5 8" stroke="#000" stroke-width="1.3"/><path d="M5 7 L8.5 11 L12 7Z" fill="#000"/></g><g transform="translate(693,61)"><path d="M0 13 Q8 12 15 6" stroke="#0000ff" fill="none" stroke-width="1.2"/><path d="M6.5 0 L6.5 16 M10.5 0 L10.5 16" stroke="#000" stroke-dasharray="1 1"/><path d="M3.5 6 L6.5 10 L9.5 6Z M8 4 L11 8 L14 4Z" fill="#000"/></g><g transform="translate(716,61)"><path d="M0 2 Q6 2 9 6 Q11 9 15 9 M0 5 Q6 5 9 9 Q11 12 15 12 M0 8 Q6 8 9 12 Q11 15 15 15" stroke="#b0b0b0" fill="none"/></g><g transform="translate(744,61)"><rect x="0.5" y="0.5" width="15" height="12" fill="#fff" stroke="#000080" stroke-width="1.3"/><path d="M2 6 Q5 3 8 6 T14 6" stroke="#0000ff" fill="none"/><path d="M2 11 Q5 8 8 11 T14 11" stroke="#ff0000" fill="none"/><path d="M4 11 L11 3 L14 5 L7 12Z" fill="#fff" stroke="#000" stroke-width="1.3"/></g><g transform="translate(773,61)"><path d="M8 1 L8 16" stroke="#000" stroke-dasharray="1 1"/><path d="M0 8.5 L16 8.5" stroke="#0000ff" stroke-width="1.2"/><rect x="2" y="7" width="3" height="3" fill="#0000ff"/><rect x="11" y="7" width="3" height="3" fill="#0000ff"/></g><g transform="translate(795,61)"><path d="M8 1 L8 16" stroke="#000" stroke-dasharray="1 1"/><path d="M0 8.5 L16 8.5" stroke="#0000ff" stroke-width="1.2"/><rect x="2" y="7" width="3" height="3" fill="#0000ff"/><rect x="11" y="7" width="3" height="3" fill="#0000ff"/></g><g transform="translate(818,61)"><path d="M1 15 Q4 1 8 1 Q12 1 15 15" stroke="#0000ff" fill="none" stroke-width="1.2"/><path d="M8 4 L8 16" stroke="#000" stroke-dasharray="1 1"/></g><g transform="translate(841,61)"><path d="M1 1 Q4 15 8 15 Q12 15 15 1" stroke="#0000ff" fill="none" stroke-width="1.2"/><path d="M8 1 L8 12" stroke="#000" stroke-dasharray="1 1"/></g><g transform="translate(864,61)"><path d="M0 13 Q2 8 4 12 Q6 16 8 8 Q9.5 2 11 6 L15 14" stroke="#0000ff" fill="none" stroke-width="1.2"/><path d="M10.5 4 L10.5 16" stroke="#000" stroke-dasharray="1 1"/></g><g transform="translate(887,61)"><path d="M0 4 Q2 0 4 3 Q6 6 8 10 Q10 16 12 10 L15 2" stroke="#0000ff" fill="none" stroke-width="1.2"/><path d="M10.5 1 L10.5 13" stroke="#000" stroke-dasharray="1 1"/></g><g transform="translate(910,61)"><path d="M1 15 L15 1" stroke="#0000ff" stroke-width="1.2"/><path d="M8 1 L8 16" stroke="#000" stroke-dasharray="1 1"/></g><g transform="translate(933,61)"><path d="M1 15 Q5 1 9 1 Q13 1 15 8 M4 15 Q7 5 10 5 Q13 5 15 14" stroke="#0000ff" fill="none" stroke-width="1.1"/><path d="M8 1 L8 16" stroke="#000" stroke-dasharray="1 1"/></g><g transform="translate(956,61)"><path d="M1 1 Q5 15 9 15 Q13 15 15 1 M4 1 Q7 11 10 11 Q13 11 15 2" stroke="#0000ff" fill="none" stroke-width="1.1"/><path d="M8 1 L8 16" stroke="#000" stroke-dasharray="1 1"/></g><g transform="translate(979,61)"><path d="M1 2 Q8 8 15 2 M1 6 Q8 12 15 6 M1 10 Q8 16 15 10" stroke="#0000ff" fill="none" stroke-width="1.2"/><path d="M8 1 L8 16" stroke="#000" stroke-dasharray="1 1"/><path d="M6 12 L8 15 L10 12Z" fill="#000"/></g><g transform="translate(1002,61)"><path d="M1 8 Q8 1 15 8 M1 11 Q8 4 15 11 M1 14 Q8 7 15 14" stroke="#0000ff" fill="none" stroke-width="1.2"/><path d="M8 1 L8 16" stroke="#000" stroke-dasharray="1 1"/><path d="M6 4 L8 1 L10 4Z" fill="#000"/></g><g transform="translate(1030,61)"><rect x="1" y="7" width="14" height="8" fill="#ffff00" stroke="#000"/><path d="M1 7 L4 3 L12 3 L15 7" stroke="#000" fill="#e0e000"/><rect x="9" y="0" width="5" height="6" fill="#fff" stroke="#c00"/><rect x="3" y="1" width="4" height="5" fill="#8888ff" stroke="#000" stroke-width=".6"/><rect x="7" y="10" width="2" height="3" fill="#000"/></g><g transform="translate(1073,61)"><rect x="0.5" y="0.5" width="15" height="15" fill="#fff" stroke="#000" stroke-width="1.2"/><path d="M1 4.5 L15 4.5 M1 7.5 L15 7.5 M1 10.5 L15 10.5 M1 13 L15 13 M5.5 1 L5.5 15" stroke="#000"/></g><g transform="translate(1100,61)"><text x="-1" y="14" font-size="16" font-family="Liberation Sans" fill="#000" stroke="#000" stroke-width="0.6">'P'</text></g><g transform="translate(1129,61)"><text x="1" y="7" font-size="8" font-weight="bold" font-family="Liberation Mono" fill="#a00000">x</text><path d="M8 6 L8 14 M2 8.5 L14 8.5" stroke="#000" stroke-width="1.3"/><path d="M5 15.5 L8 12 L11 15.5Z" fill="#000"/><path d="M0 11 L2 8.5 L4 11 M12 11 L14 8.5 L16 11" stroke="#000" fill="none"/><path d="M0 11.5 Q2 13.5 4 11.5 M12 11.5 Q14 13.5 16 11.5" stroke="#d8b000" stroke-width="1.3" fill="none"/></g><g transform="translate(1152,61)"><text x="1" y="7" font-size="8" font-weight="bold" font-family="Liberation Mono" fill="#a00000">Y</text><path d="M8 6 L8 14 M2 8.5 L14 8.5" stroke="#000" stroke-width="1.3"/><path d="M5 15.5 L8 12 L11 15.5Z" fill="#000"/><path d="M0 11 L2 8.5 L4 11 M12 11 L14 8.5 L16 11" stroke="#000" fill="none"/><path d="M0 11.5 Q2 13.5 4 11.5 M12 11.5 Q14 13.5 16 11.5" stroke="#d8b000" stroke-width="1.3" fill="none"/></g><g transform="translate(1054,69)"><path d="M0 0 L7 0 L3.5 4 Z" fill="#000"/></g><path d="M738.5 60 L738.5 79" stroke="#a0a0a0"/><path d="M739.5 60 L739.5 79" stroke="#fff"/><path d="M766.5 60 L766.5 79" stroke="#a0a0a0"/><path d="M767.5 60 L767.5 79" stroke="#fff"/><path d="M1024.5 60 L1024.5 79" stroke="#a0a0a0"/><path d="M1025.5 60 L1025.5 79" stroke="#fff"/><path d="M1068.5 60 L1068.5 79" stroke="#a0a0a0"/><path d="M1069.5 60 L1069.5 79" stroke="#fff"/><path d="M1095.5 60 L1095.5 79" stroke="#a0a0a0"/><path d="M1096.5 60 L1096.5 79" stroke="#fff"/><path d="M1123.5 60 L1123.5 79" stroke="#a0a0a0"/><path d="M1124.5 60 L1124.5 79" stroke="#fff"/><path d="M1174.5 60 L1174.5 79" stroke="#a0a0a0"/><path d="M1175.5 60 L1175.5 79" stroke="#fff"/><rect x="1126" y="59" width="22" height="21" fill="url(#chk)"/><path d="M1126.5 80 L1126.5 59.5 L1148 59.5" stroke="#c8c8c8" fill="none"/><path d="M1127 79.5 L1147.5 79.5 L1147.5 60" stroke="#ffffff" fill="none"/><rect x="1149" y="59" width="22" height="21" fill="url(#chk)"/><path d="M1149.5 80 L1149.5 59.5 L1171 59.5" stroke="#c8c8c8" fill="none"/><path d="M1150 79.5 L1170.5 79.5 L1170.5 60" stroke="#ffffff" fill="none"/><g transform="translate(1129,61)"><text x="1" y="7" font-size="8" font-weight="bold" font-family="Liberation Mono" fill="#a00000">x</text><path d="M8 6 L8 14 M2 8.5 L14 8.5" stroke="#000" stroke-width="1.3"/><path d="M5 15.5 L8 12 L11 15.5Z" fill="#000"/><path d="M0 11 L2 8.5 L4 11 M12 11 L14 8.5 L16 11" stroke="#000" fill="none"/><path d="M0 11.5 Q2 13.5 4 11.5 M12 11.5 Q14 13.5 16 11.5" stroke="#d8b000" stroke-width="1.3" fill="none"/></g><g transform="translate(1152,61)"><text x="1" y="7" font-size="8" font-weight="bold" font-family="Liberation Mono" fill="#a00000">Y</text><path d="M8 6 L8 14 M2 8.5 L14 8.5" stroke="#000" stroke-width="1.3"/><path d="M5 15.5 L8 12 L11 15.5Z" fill="#000"/><path d="M0 11 L2 8.5 L4 11 M12 11 L14 8.5 L16 11" stroke="#000" fill="none"/><path d="M0 11.5 Q2 13.5 4 11.5 M12 11.5 Q14 13.5 16 11.5" stroke="#d8b000" stroke-width="1.3" fill="none"/></g><path d="M646 82.5 L1240 82.5" stroke="#a0a0a0"/><path d="M646 83.5 L1240 83.5" stroke="#fff"/><g transform="translate(648,87)"><circle cx="6.5" cy="6.5" r="5.3" fill="#fff" stroke="#000" stroke-width="1.6"/><path d="M3.5 6.5 L9.5 6.5 M6.5 3.5 L6.5 9.5" stroke="#000" stroke-width="2"/><path d="M10.5 10.5 L15 15" stroke="#000" stroke-width="2.4"/><path d="M3 4 L4 3" stroke="#00e0e0"/></g><g transform="translate(671,87)"><circle cx="6.5" cy="6.5" r="5.3" fill="#fff" stroke="#000" stroke-width="1.6"/><path d="M3.5 6.5 L9.5 6.5" stroke="#000" stroke-width="2"/><path d="M10.5 10.5 L15 15" stroke="#000" stroke-width="2.4"/><path d="M3 4 L4 3 M8 10 L10 8" stroke="#00e0e0"/></g><g transform="translate(694,87)"><circle cx="6.5" cy="6.5" r="5.3" fill="#fff" stroke="#000" stroke-width="1.6"/><rect x="3" y="4" width="7" height="5" fill="#fff" stroke="#0000c0"/><path d="M4 7 L5.5 5 L7 7 L8.5 5" stroke="#ff0000" fill="none"/><path d="M10.5 10.5 L15 15" stroke="#000" stroke-width="2.4"/></g><g transform="translate(722,87)"><circle cx="7.5" cy="8" r="6.5" fill="#c0c0c0"/><path d="M2 8 L13 8 M7.5 2 L7.5 14 M4 4 Q7.5 8 4 12 M11 4 Q7.5 8 11 12" stroke="#f0f0f0" fill="none"/></g><g transform="translate(745,87)"><text x="0" y="14" font-size="17" font-weight="bold" font-family="Liberation Serif" fill="#000">F</text></g><path d="M715.5 86 L715.5 106" stroke="#a0a0a0"/><path d="M716.5 86 L716.5 106" stroke="#fff"/></svg>
<svg style="position:absolute;left:0;top:0" width="1253" height="614"><defs><pattern id="chk2" width="2" height="2" patternUnits="userSpaceOnUse"><rect width="2" height="2" fill="#f0f0f0"/><rect width="1" height="1" fill="#ffffff"/><rect x="1" y="1" width="1" height="1" fill="#ffffff"/></pattern></defs><g font-family="Liberation Sans, sans-serif"><rect x="610" y="86" width="17" height="502" fill="url(#chk2)"/><path d="M610 86.5 L627 86.5" stroke="#a0a0a0"/><path d="M610 87.5 L627 87.5" stroke="#696969"/><rect x="610" y="88" width="17" height="2" fill="#f0f0f0"/><path d="M610 90.5 L627 90.5" stroke="#696969"/><rect x="610" y="91" width="17" height="17" fill="#f0f0f0"/><path d="M610.5 108 L610.5 91.5 L627 91.5" stroke="#ffffff" fill="none"/><path d="M610 107.5 L626.5 107.5 L626.5 91" stroke="#696969" fill="none"/><path d="M611 106.5 L625.5 106.5 L625.5 92" stroke="#a0a0a0" fill="none"/><path d="M614.5 101.5 L622.5 101.5 L618.5 97.5Z" fill="#000"/><rect x="610" y="108" width="17" height="87" fill="#f0f0f0"/><path d="M610.5 195 L610.5 108.5 L627 108.5" stroke="#fff" fill="none"/><path d="M610 194.5 L626.5 194.5 L626.5 108" stroke="#696969" fill="none"/><path d="M611 193.5 L625.5 193.5 L625.5 109" stroke="#a0a0a0" fill="none"/><rect x="610" y="571" width="17" height="17" fill="#f0f0f0"/><path d="M610.5 588 L610.5 571.5 L627 571.5" stroke="#ffffff" fill="none"/><path d="M610 587.5 L626.5 587.5 L626.5 571" stroke="#696969" fill="none"/><path d="M611 586.5 L625.5 586.5 L625.5 572" stroke="#a0a0a0" fill="none"/><path d="M614.5 577.5 L622.5 577.5 L618.5 581.5Z" fill="#000"/><rect x="610" y="588" width="18" height="17" fill="#f0f0f0"/><path d="M610.5 605 L610.5 588.5 L627 588.5" stroke="#696969" fill="none" stroke-width="1"/><rect x="441" y="588" width="169" height="17" fill="url(#chk2)"/><path d="M441 588.5 L610 588.5" stroke="#a0a0a0"/><rect x="441" y="589" width="17" height="16" fill="#f0f0f0"/><path d="M441.5 605 L441.5 589.5 L458 589.5" stroke="#ffffff" fill="none"/><path d="M441 604.5 L457.5 604.5 L457.5 589" stroke="#696969" fill="none"/><path d="M442 603.5 L456.5 603.5 L456.5 590" stroke="#a0a0a0" fill="none"/><path d="M451.5 593.0 L451.5 601.0 L447.5 597.0Z" fill="#000"/><rect x="458" y="589" width="35" height="16" fill="#f0f0f0"/><path d="M458.5 605 L458.5 589.5 L493 589.5" stroke="#fff" fill="none"/><path d="M458 604.5 L492.5 604.5 L492.5 589" stroke="#696969" fill="none"/><rect x="594" y="589" width="16" height="16" fill="#f0f0f0"/><path d="M594.5 605 L594.5 589.5 L610 589.5" stroke="#ffffff" fill="none"/><path d="M594 604.5 L609.5 604.5 L609.5 589" stroke="#696969" fill="none"/><path d="M595 603.5 L608.5 603.5 L608.5 590" stroke="#a0a0a0" fill="none"/><path d="M600.0 593.0 L600.0 601.0 L604.0 597.0Z" fill="#000"/><rect x="10" y="588" width="431" height="17" fill="#f0f0f0"/><path d="M10 588.5 L80 588.5 M122 588.5 L441 588.5" stroke="#000"/><path d="M439.5 588 L439.5 605 M441.5 588 L441.5 605" stroke="#000"/><rect x="14.5" y="589.5" width="15" height="14" fill="#f0f0f0" stroke="#808080"/><path d="M15.5 603 L15.5 590.5 L29 590.5" stroke="#fff" fill="none"/><path d="M16 602.5 L28.5 602.5 L28.5 591" stroke="#a0a0a0" fill="none"/><path d="M18 592 L18 602" stroke="#000" stroke-width="1.5"/><path d="M25 592 L25 602 L20 597Z" fill="#000"/><rect x="30.5" y="589.5" width="15" height="14" fill="#f0f0f0" stroke="#808080"/><path d="M31.5 603 L31.5 590.5 L45 590.5" stroke="#fff" fill="none"/><path d="M32 602.5 L44.5 602.5 L44.5 591" stroke="#a0a0a0" fill="none"/><path d="M40 592 L40 602 L35 597Z" fill="#000"/><rect x="46.5" y="589.5" width="15" height="14" fill="#f0f0f0" stroke="#808080"/><path d="M47.5 603 L47.5 590.5 L61 590.5" stroke="#fff" fill="none"/><path d="M48 602.5 L60.5 602.5 L60.5 591" stroke="#a0a0a0" fill="none"/><path d="M52 592 L52 602 L57 597Z" fill="#000"/><rect x="62.5" y="589.5" width="15" height="14" fill="#f0f0f0" stroke="#808080"/><path d="M63.5 603 L63.5 590.5 L77 590.5" stroke="#fff" fill="none"/><path d="M64 602.5 L76.5 602.5 L76.5 591" stroke="#a0a0a0" fill="none"/><path d="M74 592 L74 602" stroke="#000" stroke-width="1.5"/><path d="M67 592 L67 602 L72 597Z" fill="#000"/><path d="M87 603.5 L441 603.5" stroke="#a0a0a0"/><text x="124.5" y="598.7" font-size="11" fill="#000" letter-spacing="-.2">Text</text><text x="160" y="598.7" font-size="11" fill="#000" letter-spacing="-.2">Models</text><text x="213.5" y="598.7" font-size="11" fill="#000" letter-spacing="-.2">Power Supplies</text><text x="304" y="598.7" font-size="11" fill="#000" letter-spacing="-.2">Info</text><path d="M150.5 588.5 L156.5 603.5 M148.5 603.5 L151.5 597" stroke="#000" fill="none"/><path d="M199.5 588.5 L205.5 603.5 M197.5 603.5 L200.5 597" stroke="#000" fill="none"/><path d="M294.5 588.5 L300.5 603.5 M292.5 603.5 L295.5 597" stroke="#000" fill="none"/><path d="M325 603.5 L329.5 588.5" stroke="#000" fill="none"/><path d="M79.5 588 L87 603.5 L116 603.5 L123 588 Z" fill="#ffffff"/><path d="M79.5 588 L87 603.5 M116 603.5 L123 588.5 M119 597 L122 603.5" stroke="#000" fill="none"/><text x="88" y="598.7" font-size="11" font-weight="bold" fill="#000" letter-spacing="-.1">Main</text><rect x="643" y="587" width="601" height="18" fill="#f0f0f0"/><path d="M644.5 587 L644.5 605" stroke="#a0a0a0"/><path d="M773 587.5 L1226 587.5" stroke="#000"/><rect x="649.5" y="588.5" width="15" height="14" fill="#f0f0f0" stroke="#808080"/><path d="M650.5 602 L650.5 589.5 L664 589.5" stroke="#fff" fill="none"/><path d="M651 601.5 L663.5 601.5 L663.5 590" stroke="#a0a0a0" fill="none"/><path d="M654 598 L660 598 L657 601Z" fill="#000"/><rect x="665.5" y="588.5" width="15" height="14" fill="#f0f0f0" stroke="#808080"/><path d="M666.5 602 L666.5 589.5 L680 589.5" stroke="#fff" fill="none"/><path d="M667 601.5 L679.5 601.5 L679.5 590" stroke="#a0a0a0" fill="none"/><path d="M669 591 L669 601" stroke="#000" stroke-width="1.5"/><path d="M676 591 L676 601 L671 596Z" fill="#000"/><rect x="681.5" y="588.5" width="15" height="14" fill="#f0f0f0" stroke="#808080"/><path d="M682.5 602 L682.5 589.5 L696 589.5" stroke="#fff" fill="none"/><path d="M683 601.5 L695.5 601.5 L695.5 590" stroke="#a0a0a0" fill="none"/><path d="M691 591 L691 601 L686 596Z" fill="#000"/><rect x="697.5" y="588.5" width="15" height="14" fill="#f0f0f0" stroke="#808080"/><path d="M698.5 602 L698.5 589.5 L712 589.5" stroke="#fff" fill="none"/><path d="M699 601.5 L711.5 601.5 L711.5 590" stroke="#a0a0a0" fill="none"/><path d="M703 591 L703 601 L708 596Z" fill="#000"/><rect x="713.5" y="588.5" width="15" height="14" fill="#f0f0f0" stroke="#808080"/><path d="M714.5 602 L714.5 589.5 L728 589.5" stroke="#fff" fill="none"/><path d="M715 601.5 L727.5 601.5 L727.5 590" stroke="#a0a0a0" fill="none"/><path d="M725 591 L725 601" stroke="#000" stroke-width="1.5"/><path d="M718 591 L718 601 L723 596Z" fill="#000"/><path d="M731 587 L738 603.5 L767 603.5 L774 587 Z" fill="#ffffff" stroke="#000"/><rect x="732" y="585" width="41" height="2.5" fill="#fff"/><text x="740" y="600" font-size="11" font-weight="bold" fill="#000" letter-spacing="-.3">Main</text><rect x="1226" y="587" width="17" height="7" fill="#f0f0f0"/><path d="M1226.5 594 L1226.5 587.5 L1243 587.5" stroke="#ffffff" fill="none"/><path d="M1226 593.5 L1242.5 593.5 L1242.5 587" stroke="#696969" fill="none"/><path d="M1227 592.5 L1241.5 592.5 L1241.5 588" stroke="#a0a0a0" fill="none"/></g></svg>
<svg style="position:absolute;left:10px;top:8px" width="16" height="16"><rect x="0" y="0" width="16" height="16" fill="#000"/><rect x="1" y="1" width="14" height="13" fill="#e4e0d4"/><path d="M1 5.5 H15 M1 9.5 H15 M5.5 1 V14 M9.5 1 V14" stroke="#f4f2ea" stroke-width=".6"/><path d="M5.5 1.5 V12.5 H11 M5.5 1.5 H12.5 M1 5.5 H4 L2.5 8.5 L1.8 14 M9 7 L11 5 M9 7 L11 9 L12 11 M11 7.5 H14" stroke="#3b6fdc" stroke-width="1.1" fill="none"/><circle cx="3.5" cy="4.5" r="1" fill="#0010ff"/><circle cx="2.8" cy="9" r="1" fill="#0010ff"/><circle cx="9" cy="7" r="1" fill="#0010ff"/><circle cx="11" cy="5" r="1" fill="#0010ff"/><circle cx="11" cy="9.5" r="1" fill="#0010ff"/><path d="M6.3 5.5 H8 M13 3.5 H15 M12 5.5 H14 M12.3 9.5 H14" stroke="#ff1010" stroke-width="1.2"/><rect x="11" y="14" width="4" height="1" fill="#fff"/></svg>
<svg style="position:absolute;left:643px;top:8px" width="16" height="16"><rect x="0.5" y="0.5" width="15" height="15" fill="#fff" stroke="#000"/><rect x="1" y="1" width="14" height="3" fill="#0000e0"/><rect x="4.5" y="6.5" width="10" height="7" fill="#00e8e8" stroke="#000"/><path d="M6 11 Q9 7 13 11" stroke="#000" fill="none"/><path d="M2 7 L3 7 M2 9 L3 9 M2 11 L3 11" stroke="#000"/></svg>
</div></body></html>
